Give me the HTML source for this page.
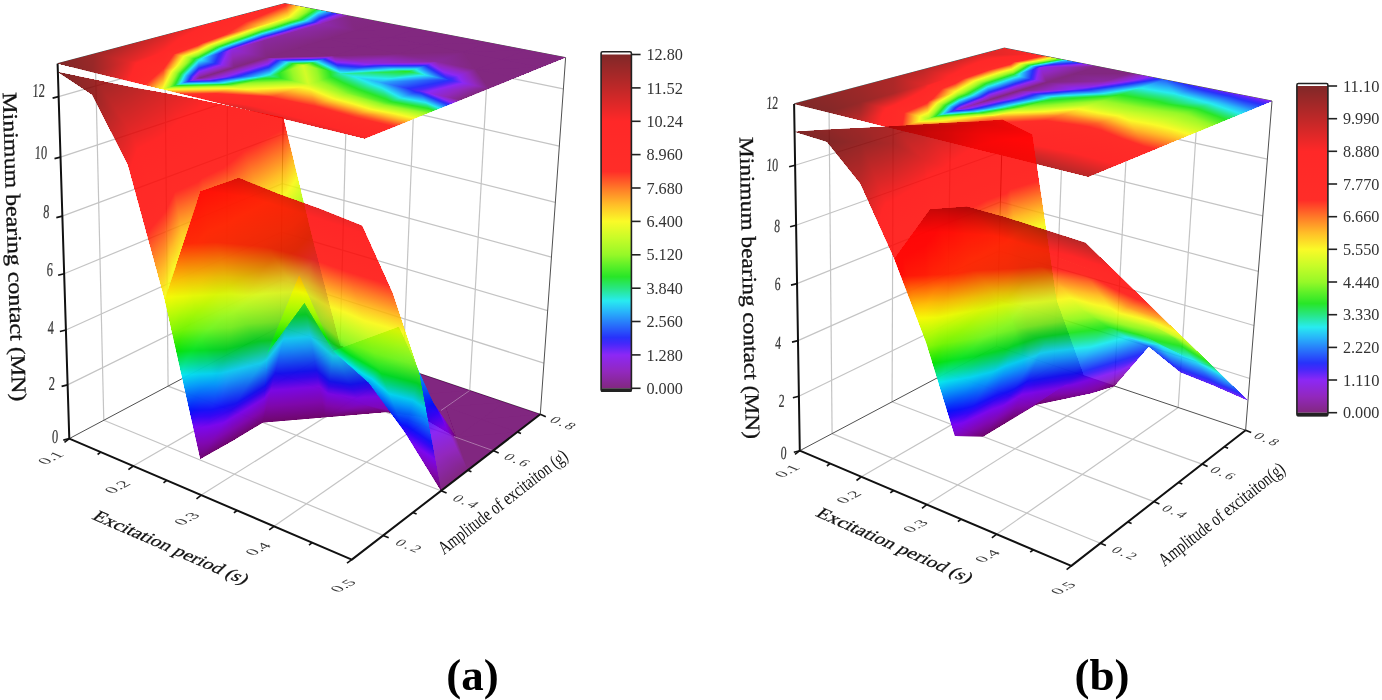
<!DOCTYPE html>
<html><head><meta charset="utf-8"><title>Minimum bearing contact</title>
<style>html,body{margin:0;padding:0;background:#fff}svg{display:block;filter:blur(0.45px)}text{font-family:"Liberation Serif",serif}</style></head>
<body><svg width="1382" height="700" viewBox="0 0 1382 700">
<defs>
<linearGradient id="cmO" gradientUnits="userSpaceOnUse"><stop offset="0" stop-color="#822880"/><stop offset="0.05" stop-color="#9228be"/><stop offset="0.1" stop-color="#8c28f5"/><stop offset="0.133" stop-color="#4628fa"/><stop offset="0.152" stop-color="#2832fa"/><stop offset="0.2" stop-color="#2882fa"/><stop offset="0.229" stop-color="#28b4fa"/><stop offset="0.262" stop-color="#28ebf0"/><stop offset="0.3" stop-color="#28e682"/><stop offset="0.334" stop-color="#28e628"/><stop offset="0.367" stop-color="#5cf028"/><stop offset="0.4" stop-color="#96f828"/><stop offset="0.45" stop-color="#c8fc28"/><stop offset="0.5" stop-color="#fafa28"/><stop offset="0.55" stop-color="#ffbe28"/><stop offset="0.6" stop-color="#ff7828"/><stop offset="0.65" stop-color="#ff2d28"/><stop offset="0.8" stop-color="#ff2828"/><stop offset="0.9" stop-color="#be2828"/><stop offset="1" stop-color="#802828"/></linearGradient>
<linearGradient id="cmT" gradientUnits="userSpaceOnUse"><stop offset="0" stop-color="#6c026a"/><stop offset="0.05" stop-color="#7f02b3"/><stop offset="0.1" stop-color="#7802f3"/><stop offset="0.133" stop-color="#2502f9"/><stop offset="0.152" stop-color="#020ef9"/><stop offset="0.2" stop-color="#026cf9"/><stop offset="0.229" stop-color="#02a7f9"/><stop offset="0.262" stop-color="#02e7ed"/><stop offset="0.3" stop-color="#02e26c"/><stop offset="0.334" stop-color="#02e202"/><stop offset="0.367" stop-color="#3fed02"/><stop offset="0.4" stop-color="#83f702"/><stop offset="0.45" stop-color="#befb02"/><stop offset="0.5" stop-color="#f9f902"/><stop offset="0.55" stop-color="#ffb302"/><stop offset="0.6" stop-color="#ff6002"/><stop offset="0.65" stop-color="#ff0802"/><stop offset="0.8" stop-color="#ff0202"/><stop offset="0.9" stop-color="#b30202"/><stop offset="1" stop-color="#6a0202"/></linearGradient>
<linearGradient id="a1" href="#cmO" x1="834.9" y1="-217.0" x2="57.6" y2="63.6"/>
<linearGradient id="a2" href="#cmO" x1="388.2" y1="73.9" x2="80.6" y2="71.8"/>
<linearGradient id="a3" href="#cmO" x1="284.3" y1="178.5" x2="84.4" y2="68.0"/>
<linearGradient id="a4" href="#cmO" x1="255.3" y1="136.1" x2="96.8" y2="67.6"/>
<linearGradient id="a5" href="#cmO" x1="177.9" y1="138.7" x2="114.6" y2="67.0"/>
<linearGradient id="a6" href="#cmO" x1="187.3" y1="102.0" x2="137.4" y2="76.2"/>
<linearGradient id="a7" href="#cmO" x1="162.5" y1="73.5" x2="163.0" y2="105.6"/>
<linearGradient id="a8" href="#cmO" x1="162.5" y1="78.9" x2="163.0" y2="100.0"/>
<linearGradient id="a9" href="#cmO" x1="207.9" y1="41.2" x2="198.3" y2="113.0"/>
<linearGradient id="a10" href="#cmO" x1="202.1" y1="66.9" x2="199.8" y2="106.5"/>
<linearGradient id="a11" href="#cmO" x1="263.2" y1="20.8" x2="235.1" y2="122.7"/>
<linearGradient id="a12" href="#cmO" x1="253.1" y1="39.2" x2="236.8" y2="119.6"/>
<linearGradient id="a13" href="#cmO" x1="301.9" y1="32.9" x2="275.4" y2="133.5"/>
<linearGradient id="a14" href="#cmO" x1="344.3" y1="44.7" x2="316.9" y2="144.3"/>
<linearGradient id="a15" href="#cmO" x1="344.1" y1="44.9" x2="316.9" y2="144.3"/>
<linearGradient id="a16" href="#cmO" x1="384.7" y1="53.8" x2="360.6" y2="156.7"/>
<linearGradient id="a17" href="#cmO" x1="203.3" y1="233.4" x2="89.9" y2="44.9"/>
<linearGradient id="a18" href="#cmO" x1="225.3" y1="218.3" x2="110.9" y2="32.6"/>
<linearGradient id="a19" href="#cmO" x1="163.1" y1="142.2" x2="122.4" y2="46.6"/>
<linearGradient id="a20" href="#cmO" x1="196.4" y1="93.1" x2="145.0" y2="56.6"/>
<linearGradient id="a21" href="#cmO" x1="185.9" y1="92.0" x2="150.9" y2="57.2"/>
<linearGradient id="a22" href="#cmO" x1="199.4" y1="78.4" x2="180.1" y2="16.5"/>
<linearGradient id="a23" href="#cmO" x1="199.3" y1="78.0" x2="204.5" y2="110.0"/>
<linearGradient id="a24" href="#cmO" x1="199.3" y1="77.9" x2="217.4" y2="138.9"/>
<linearGradient id="a25" href="#cmO" x1="235.4" y1="59.1" x2="237.8" y2="120.3"/>
<linearGradient id="a26" href="#cmO" x1="235.4" y1="60.3" x2="237.7" y2="118.8"/>
<linearGradient id="a27" href="#cmO" x1="287.5" y1="30.2" x2="267.3" y2="135.3"/>
<linearGradient id="a28" href="#cmO" x1="337.5" y1="49.4" x2="301.9" y2="136.5"/>
<linearGradient id="a29" href="#cmO" x1="327.9" y1="55.7" x2="307.3" y2="133.0"/>
<linearGradient id="a30" href="#cmO" x1="370.1" y1="68.3" x2="347.4" y2="142.8"/>
<linearGradient id="a31" href="#cmO" x1="367.3" y1="66.6" x2="349.2" y2="143.8"/>
<linearGradient id="a32" href="#cmO" x1="363.6" y1="74.1" x2="351.3" y2="139.4"/>
<linearGradient id="a33" href="#cmO" x1="227.6" y1="210.7" x2="120.8" y2="27.1"/>
<linearGradient id="a34" href="#cmO" x1="258.5" y1="171.7" x2="140.1" y2="21.2"/>
<linearGradient id="a35" href="#cmO" x1="174.0" y1="79.3" x2="161.6" y2="44.8"/>
<linearGradient id="a36" href="#cmO" x1="203.0" y1="68.2" x2="186.8" y2="37.5"/>
<linearGradient id="a37" href="#cmO" x1="230.3" y1="75.2" x2="117.3" y2="19.7"/>
<linearGradient id="a38" href="#cmO" x1="234.0" y1="67.6" x2="168.5" y2="-147.3"/>
<linearGradient id="a39" href="#cmO" x1="234.0" y1="67.6" x2="252.7" y2="129.2"/>
<linearGradient id="a40" href="#cmO" x1="260.7" y1="61.9" x2="295.0" y2="110.4"/>
<linearGradient id="a41" href="#cmO" x1="215.8" y1="92.0" x2="405.5" y2="36.3"/>
<linearGradient id="a42" href="#cmO" x1="391.4" y1="60.1" x2="211.8" y2="112.9"/>
<linearGradient id="a43" href="#cmO" x1="335.3" y1="29.9" x2="277.4" y2="148.3"/>
<linearGradient id="a44" href="#cmO" x1="369.3" y1="43.7" x2="314.5" y2="170.8"/>
<linearGradient id="a45" href="#cmO" x1="364.8" y1="46.0" x2="321.5" y2="167.1"/>
<linearGradient id="a46" href="#cmO" x1="406.5" y1="68.6" x2="355.3" y2="165.0"/>
<linearGradient id="a47" href="#cmO" x1="393.3" y1="76.5" x2="379.7" y2="150.4"/>
<linearGradient id="a48" href="#cmO" x1="439.4" y1="91.0" x2="416.0" y2="147.1"/>
<linearGradient id="a49" href="#cmO" x1="226.9" y1="156.4" x2="154.8" y2="16.0"/>
<linearGradient id="a50" href="#cmO" x1="261.5" y1="121.8" x2="173.7" y2="12.7"/>
<linearGradient id="a51" href="#cmO" x1="204.9" y1="62.2" x2="195.0" y2="35.1"/>
<linearGradient id="a52" href="#cmO" x1="232.4" y1="52.1" x2="223.0" y2="24.7"/>
<linearGradient id="a53" href="#cmO" x1="263.2" y1="65.1" x2="-140.1" y2="-128.7"/>
<linearGradient id="a54" href="#cmO" x1="266.8" y1="57.6" x2="54.1" y2="-640.8"/>
<linearGradient id="a55" href="#cmO" x1="266.8" y1="57.6" x2="267.3" y2="77.0"/>
<linearGradient id="a56" href="#cmO" x1="312.4" y1="45.6" x2="292.1" y2="88.8"/>
<linearGradient id="a57" href="#cmO" x1="341.9" y1="56.3" x2="336.9" y2="118.0"/>
<linearGradient id="a58" href="#cmO" x1="338.6" y1="105.3" x2="345.2" y2="-7.2"/>
<linearGradient id="a59" href="#cmO" x1="339.7" y1="62.3" x2="342.4" y2="102.8"/>
<linearGradient id="a60" href="#cmO" x1="386.5" y1="118.2" x2="354.4" y2="-40.9"/>
<linearGradient id="a61" href="#cmO" x1="380.8" y1="97.6" x2="373.7" y2="29.3"/>
<linearGradient id="a62" href="#cmO" x1="428.2" y1="113.0" x2="356.6" y2="-64.3"/>
<linearGradient id="a63" href="#cmO" x1="422.8" y1="105.0" x2="394.5" y2="-8.2"/>
<linearGradient id="a64" href="#cmO" x1="231.7" y1="105.7" x2="189.2" y2="9.2"/>
<linearGradient id="a65" href="#cmO" x1="262.7" y1="88.0" x2="210.4" y2="2.2"/>
<linearGradient id="a66" href="#cmO" x1="236.1" y1="51.5" x2="225.8" y2="23.4"/>
<linearGradient id="a67" href="#cmO" x1="263.4" y1="41.5" x2="255.2" y2="12.4"/>
<linearGradient id="a68" href="#cmO" x1="268.2" y1="57.2" x2="55.5" y2="-641.3"/>
<linearGradient id="a69" href="#cmO" x1="265.0" y1="50.4" x2="191.4" y2="-358.1"/>
<linearGradient id="a70" href="#cmO" x1="333.7" y1="55.7" x2="337.0" y2="169.0"/>
<linearGradient id="a71" href="#cmO" x1="370.7" y1="61.0" x2="370.8" y2="92.8"/>
<linearGradient id="a72" href="#cmO" x1="372.0" y1="50.9" x2="355.4" y2="211.2"/>
<linearGradient id="a73" href="#cmO" x1="421.7" y1="50.2" x2="383.3" y2="113.6"/>
<linearGradient id="a74" href="#cmO" x1="452.9" y1="63.1" x2="423.6" y2="170.1"/>
<linearGradient id="a75" href="#cmO" x1="471.7" y1="63.5" x2="321.8" y2="168.0"/>
<linearGradient id="a76" href="#cmO" x1="251.5" y1="77.2" x2="220.5" y2="1.3"/>
<linearGradient id="a77" href="#cmO" x1="277.3" y1="66.6" x2="245.6" y2="-8.9"/>
<linearGradient id="a78" href="#cmO" x1="265.6" y1="42.4" x2="255.2" y2="11.2"/>
<linearGradient id="a79" href="#cmO" x1="293.5" y1="33.1" x2="284.6" y2="1.4"/>
<linearGradient id="a80" href="#cmO" x1="298.1" y1="48.1" x2="142.4" y2="-462.9"/>
<linearGradient id="a81" href="#cmO" x1="295.2" y1="42.4" x2="230.6" y2="-287.0"/>
<linearGradient id="a82" href="#cmO" x1="399.3" y1="53.8" x2="410.1" y2="427.8"/>
<linearGradient id="a83" href="#cmO" x1="459.4" y1="45.8" x2="-497.6" y2="712.8"/>
<linearGradient id="a84" href="#cmO" x1="279.1" y1="65.0" x2="248.4" y2="-9.8"/>
<linearGradient id="a85" href="#cmO" x1="313.3" y1="44.8" x2="264.4" y2="-10.2"/>
<linearGradient id="a86" href="#cmO" x1="302.9" y1="38.6" x2="274.9" y2="-4.0"/>
<linearGradient id="a87" href="#cmO" x1="322.5" y1="25.7" x2="304.7" y2="-23.4"/>
<linearGradient id="a88" href="#cmO" x1="352.4" y1="16.6" x2="-431.2" y2="200.9"/>
<linearGradient id="a89" href="#cmO" x1="355.6" y1="30.5" x2="-831.1" y2="-3865.7"/>
<linearGradient id="a90" href="#cmT" x1="322.0" y1="359.8" x2="134.3" y2="93.5"/>
<linearGradient id="a91" href="#cmT" x1="345.9" y1="372.4" x2="-3093.7" y2="-5338.7"/>
<linearGradient id="a92" href="#cmT" x1="343.0" y1="346.2" x2="-381.4" y2="426.7"/>
<linearGradient id="a93" href="#cmT" x1="394.2" y1="272.4" x2="178.2" y2="114.1"/>
<linearGradient id="a94" href="#cmT" x1="386.6" y1="291.7" x2="185.8" y2="94.7"/>
<linearGradient id="a95" href="#cmT" x1="389.8" y1="356.1" x2="204.7" y2="18.3"/>
<linearGradient id="a96" href="#cmT" x1="297.5" y1="391.5" x2="-11.3" y2="-391.1"/>
<linearGradient id="a97" href="#cmT" x1="292.7" y1="376.0" x2="135.5" y2="89.6"/>
<linearGradient id="a98" href="#cmT" x1="305.6" y1="396.6" x2="-264.7" y2="-550.3"/>
<linearGradient id="a99" href="#cmT" x1="368.3" y1="366.9" x2="167.3" y2="42.4"/>
<linearGradient id="a100" href="#cmT" x1="338.9" y1="353.6" x2="191.7" y2="53.3"/>
<linearGradient id="a101" href="#cmT" x1="267.7" y1="407.2" x2="-70.9" y2="-519.5"/>
<linearGradient id="a102" href="#cmT" x1="369.5" y1="375.7" x2="185.0" y2="25.2"/>
<linearGradient id="a103" href="#cmT" x1="263.5" y1="392.3" x2="104.2" y2="104.2"/>
<linearGradient id="a104" href="#cmT" x1="276.9" y1="414.0" x2="-454.2" y2="-800.0"/>
<linearGradient id="a105" href="#cmT" x1="382.7" y1="353.4" x2="140.0" y2="66.6"/>
<linearGradient id="a106" href="#cmT" x1="324.9" y1="361.4" x2="173.6" y2="61.9"/>
<linearGradient id="a107" href="#cmT" x1="262.8" y1="422.4" x2="-468.3" y2="-791.5"/>
<linearGradient id="a108" href="#cmT" x1="365.4" y1="406.2" x2="159.6" y2="30.7"/>
<linearGradient id="a109" href="#cmT" x1="244.3" y1="404.9" x2="66.1" y2="140.6"/>
<linearGradient id="a110" href="#cmT" x1="385.9" y1="412.1" x2="413.0" y2="735.7"/>
<linearGradient id="a111" href="#cmT" x1="270.1" y1="394.6" x2="-237.6" y2="262.2"/>
<linearGradient id="a112" href="#cmT" x1="446.1" y1="408.1" x2="-626.5" y2="782.6"/>
<linearGradient id="a113" href="#cmT" x1="406.2" y1="350.6" x2="119.7" y2="75.2"/>
<linearGradient id="a114" href="#cmT" x1="305.3" y1="379.2" x2="157.6" y2="64.4"/>
<linearGradient id="a115" href="#cmT" x1="232.4" y1="440.8" x2="-93.9" y2="-101.0"/>
<linearGradient id="a116" href="#cmT" x1="384.9" y1="449.1" x2="130.3" y2="36.5"/>
<linearGradient id="a117" href="#cmT" x1="256.9" y1="390.0" x2="51.9" y2="183.2"/>
<linearGradient id="a118" href="#cmT" x1="257.9" y1="348.1" x2="49.3" y2="290.5"/>
<linearGradient id="a119" href="#cmT" x1="424.7" y1="406.7" x2="98.7" y2="67.5"/>
<linearGradient id="a120" href="#cmT" x1="201.2" y1="460.0" x2="-4.2" y2="126.7"/>
<linearGradient id="a121" href="#cmT" x1="285.4" y1="408.7" x2="134.2" y2="67.0"/>
<linearGradient id="a122" href="#cmT" x1="406.1" y1="495.1" x2="103.1" y2="45.2"/>
<linearGradient id="a123" href="#cmT" x1="301.7" y1="307.9" x2="88.2" y2="166.1"/>
<linearGradient id="a124" href="#cmT" x1="294.9" y1="280.2" x2="92.0" y2="181.7"/>
<linearGradient id="a125" href="#cmT" x1="398.1" y1="501.0" x2="80.3" y2="61.7"/>
<linearGradient id="a126" href="#cmT" x1="391.5" y1="520.7" x2="81.2" y2="58.2"/>
<linearGradient id="a127" href="#cmT" x1="308.1" y1="473.6" x2="96.9" y2="66.8"/>
<linearGradient id="a128" href="#cmT" x1="243.2" y1="324.5" x2="84.0" y2="274.4"/>
<linearGradient id="a129" href="#cmT" x1="396.1" y1="96.6" x2="80.9" y2="94.4"/>
<linearGradient id="a130" href="#cmT" x1="361.7" y1="247.5" x2="74.0" y2="145.2"/>
<linearGradient id="a131" href="#cmT" x1="730.0" y1="-159.3" x2="57.8" y2="72.0"/>
<linearGradient id="a132" href="#cmT" x1="351.7" y1="356.3" x2="76.3" y2="120.1"/>
<linearGradient id="a133" href="#cmT" x1="449.3" y1="264.0" x2="79.0" y2="88.3"/>
<linearGradient id="a134" href="#cmT" x1="324.9" y1="417.2" x2="313.7" y2="283.1"/>
<linearGradient id="a135" href="#cmT" x1="359.2" y1="407.6" x2="367.6" y2="358.0"/>
<linearGradient id="a136" href="#cmT" x1="262.8" y1="422.4" x2="236.9" y2="112.2"/>
<linearGradient id="a137" href="#cmT" x1="323.4" y1="417.0" x2="358.8" y2="182.4"/>
<linearGradient id="a138" href="#cmT" x1="360.9" y1="426.4" x2="347.5" y2="136.3"/>
<linearGradient id="a139" href="#cmT" x1="423.7" y1="421.7" x2="483.0" y2="298.4"/>
<linearGradient id="a140" href="#cmT" x1="240.0" y1="345.5" x2="368.5" y2="193.4"/>
<linearGradient id="a141" href="#cmT" x1="363.9" y1="358.4" x2="467.7" y2="264.9"/>
<linearGradient id="a142" href="#cmT" x1="343.7" y1="427.6" x2="306.8" y2="155.3"/>
<linearGradient id="a143" href="#cmT" x1="298.4" y1="377.8" x2="191.2" y2="292.4"/>
<linearGradient id="a144" href="#cmT" x1="442.9" y1="399.0" x2="379.3" y2="421.2"/>
<linearGradient id="a145" href="#cmT" x1="388.9" y1="482.7" x2="301.5" y2="42.3"/>
<linearGradient id="a146" href="#cmT" x1="321.7" y1="499.9" x2="363.0" y2="-29.5"/>
<linearGradient id="a147" href="#cmT" x1="430.7" y1="487.5" x2="224.9" y2="46.2"/>
<linearGradient id="a148" href="#cmT" x1="415.2" y1="505.8" x2="211.6" y2="-36.5"/>
<linearGradient id="a149" href="#cmT" x1="353.3" y1="293.2" x2="247.2" y2="313.4"/>
<linearGradient id="a150" href="#cmT" x1="446.7" y1="486.4" x2="113.1" y2="53.5"/>
<linearGradient id="a151" href="#cmT" x1="191.8" y1="367.5" x2="453.3" y2="317.8"/>
<linearGradient id="a152" href="#cmT" x1="232.4" y1="440.8" x2="130.6" y2="271.8"/>
<linearGradient id="a153" href="#cmT" x1="200.8" y1="459.4" x2="99.4" y2="287.1"/>
<linearGradient id="a154" href="#cmT" x1="200.7" y1="459.8" x2="127.3" y2="166.8"/>
<linearGradient id="a155" href="#cmT" x1="315.7" y1="378.3" x2="380.6" y2="282.8"/>
<linearGradient id="a156" href="#cmT" x1="271.9" y1="344.8" x2="342.4" y2="253.1"/>
<linearGradient id="a157" href="#cmT" x1="347.3" y1="405.6" x2="437.6" y2="300.4"/>
<linearGradient id="a158" href="#cmT" x1="245.0" y1="435.1" x2="223.8" y2="159.1"/>
<linearGradient id="a159" href="#cmT" x1="170.9" y1="461.1" x2="158.6" y2="133.5"/>
<linearGradient id="a160" href="#cmT" x1="314.5" y1="388.3" x2="382.6" y2="267.3"/>
<linearGradient id="a161" href="#cmT" x1="371.5" y1="444.1" x2="498.3" y2="255.0"/>
<linearGradient id="a162" href="#cmT" x1="357.4" y1="451.3" x2="418.8" y2="216.2"/>
<linearGradient id="a163" href="#cmT" x1="245.4" y1="444.2" x2="223.3" y2="148.1"/>
<linearGradient id="a164" href="#cmT" x1="242.6" y1="382.6" x2="350.1" y2="193.8"/>
<linearGradient id="a165" href="#cmT" x1="173.4" y1="471.8" x2="156.0" y2="122.5"/>
<linearGradient id="a166" href="#cmT" x1="239.1" y1="396.1" x2="293.1" y2="172.0"/>
<linearGradient id="a167" href="#cmT" x1="286.8" y1="426.1" x2="389.7" y2="192.4"/>
<linearGradient id="a168" href="#cmT" x1="174.8" y1="456.1" x2="207.1" y2="123.9"/>
<linearGradient id="a169" href="#cmT" x1="302.3" y1="450.3" x2="380.4" y2="177.9"/>
<linearGradient id="a170" href="#cmT" x1="255.7" y1="418.2" x2="342.7" y2="173.8"/>
<linearGradient id="a171" href="#cmT" x1="175.2" y1="417.1" x2="249.6" y2="137.6"/>
<linearGradient id="a172" href="#cmT" x1="166.2" y1="440.2" x2="209.3" y2="128.0"/>
<linearGradient id="a173" href="#cmT" x1="300.4" y1="445.3" x2="381.5" y2="180.9"/>
<linearGradient id="a174" href="#cmT" x1="169.2" y1="396.7" x2="250.6" y2="141.1"/>
<linearGradient id="a175" href="#cmT" x1="244.9" y1="421.0" x2="334.3" y2="167.1"/>
<linearGradient id="a176" href="#cmT" x1="211.5" y1="412.6" x2="290.9" y2="153.5"/>
<linearGradient id="a177" href="#cmT" x1="295.3" y1="443.7" x2="376.4" y2="179.3"/>
<linearGradient id="a178" href="#cmT" x1="249.1" y1="428.6" x2="333.4" y2="165.6"/>
<linearGradient id="b1" href="#cmO" x1="1112.8" y1="-733.7" x2="794.1" y2="103.9"/>
<linearGradient id="b2" href="#cmO" x1="1269.4" y1="-595.2" x2="824.6" y2="115.1"/>
<linearGradient id="b3" href="#cmO" x1="940.3" y1="326.6" x2="826.0" y2="111.0"/>
<linearGradient id="b4" href="#cmO" x1="970.2" y1="195.1" x2="848.0" y2="112.0"/>
<linearGradient id="b5" href="#cmO" x1="1020.0" y1="177.1" x2="842.6" y2="114.0"/>
<linearGradient id="b6" href="#cmO" x1="969.1" y1="141.9" x2="864.9" y2="123.6"/>
<linearGradient id="b7" href="#cmO" x1="894.1" y1="88.8" x2="895.2" y2="145.1"/>
<linearGradient id="b8" href="#cmO" x1="894.4" y1="105.9" x2="895.1" y2="138.1"/>
<linearGradient id="b9" href="#cmO" x1="944.6" y1="31.2" x2="929.1" y2="151.9"/>
<linearGradient id="b10" href="#cmO" x1="934.9" y1="74.8" x2="930.4" y2="146.1"/>
<linearGradient id="b11" href="#cmO" x1="1001.7" y1="11.6" x2="965.2" y2="158.9"/>
<linearGradient id="b12" href="#cmO" x1="999.5" y1="15.4" x2="965.4" y2="158.6"/>
<linearGradient id="b13" href="#cmO" x1="1049.1" y1="-1.2" x2="1003.0" y2="170.5"/>
<linearGradient id="b14" href="#cmO" x1="1033.1" y1="28.2" x2="1004.4" y2="167.9"/>
<linearGradient id="b15" href="#cmO" x1="1088.8" y1="9.6" x2="1042.8" y2="181.1"/>
<linearGradient id="b16" href="#cmO" x1="1130.5" y1="21.2" x2="1084.1" y2="192.2"/>
<linearGradient id="b17" href="#cmO" x1="1526.2" y1="-765.6" x2="812.1" y2="115.3"/>
<linearGradient id="b18" href="#cmO" x1="1548.7" y1="-397.7" x2="835.4" y2="121.0"/>
<linearGradient id="b19" href="#cmO" x1="891.8" y1="182.7" x2="859.9" y2="99.3"/>
<linearGradient id="b20" href="#cmO" x1="922.2" y1="168.6" x2="884.9" y2="90.6"/>
<linearGradient id="b21" href="#cmO" x1="912.7" y1="153.6" x2="888.1" y2="95.7"/>
<linearGradient id="b22" href="#cmO" x1="943.8" y1="131.9" x2="907.3" y2="99.5"/>
<linearGradient id="b23" href="#cmO" x1="926.3" y1="100.0" x2="932.1" y2="144.6"/>
<linearGradient id="b24" href="#cmO" x1="928.0" y1="109.8" x2="929.6" y2="130.7"/>
<linearGradient id="b25" href="#cmO" x1="962.1" y1="50.8" x2="965.1" y2="159.2"/>
<linearGradient id="b26" href="#cmO" x1="962.9" y1="78.4" x2="964.8" y2="147.5"/>
<linearGradient id="b27" href="#cmO" x1="1046.5" y1="-55.0" x2="989.1" y2="185.6"/>
<linearGradient id="b28" href="#cmO" x1="1020.5" y1="4.5" x2="995.9" y2="170.0"/>
<linearGradient id="b29" href="#cmO" x1="1067.6" y1="-2.2" x2="1031.5" y2="183.2"/>
<linearGradient id="b30" href="#cmO" x1="1098.9" y1="-58.0" x2="1023.4" y2="197.8"/>
<linearGradient id="b31" href="#cmO" x1="1123.9" y1="-9.4" x2="1067.2" y2="194.7"/>
<linearGradient id="b32" href="#cmO" x1="1174.8" y1="23.7" x2="1105.0" y2="200.3"/>
<linearGradient id="b33" href="#cmO" x1="2099.0" y1="46.0" x2="799.9" y2="87.9"/>
<linearGradient id="b34" href="#cmO" x1="1251.8" y1="81.7" x2="866.0" y2="94.2"/>
<linearGradient id="b35" href="#cmO" x1="935.6" y1="168.6" x2="890.5" y2="87.4"/>
<linearGradient id="b36" href="#cmO" x1="964.9" y1="137.4" x2="909.0" y2="84.0"/>
<linearGradient id="b37" href="#cmO" x1="940.1" y1="123.5" x2="920.5" y2="90.4"/>
<linearGradient id="b38" href="#cmO" x1="961.5" y1="110.9" x2="946.9" y2="73.5"/>
<linearGradient id="b39" href="#cmO" x1="960.4" y1="107.1" x2="964.8" y2="133.8"/>
<linearGradient id="b40" href="#cmO" x1="960.1" y1="106.5" x2="968.8" y2="144.1"/>
<linearGradient id="b41" href="#cmO" x1="993.8" y1="74.7" x2="997.2" y2="148.8"/>
<linearGradient id="b42" href="#cmO" x1="994.6" y1="88.7" x2="996.5" y2="138.2"/>
<linearGradient id="b43" href="#cmO" x1="1047.6" y1="29.2" x2="1025.4" y2="165.7"/>
<linearGradient id="b44" href="#cmO" x1="1043.2" y1="42.5" x2="1027.2" y2="160.1"/>
<linearGradient id="b45" href="#cmO" x1="1100.0" y1="20.6" x2="1057.7" y2="177.6"/>
<linearGradient id="b46" href="#cmO" x1="1146.6" y1="48.2" x2="1092.8" y2="181.0"/>
<linearGradient id="b47" href="#cmO" x1="1139.8" y1="51.8" x2="1095.6" y2="179.6"/>
<linearGradient id="b48" href="#cmO" x1="1172.1" y1="52.4" x2="1137.4" y2="199.0"/>
<linearGradient id="b49" href="#cmO" x1="992.0" y1="283.7" x2="885.6" y2="61.6"/>
<linearGradient id="b50" href="#cmO" x1="1044.7" y1="219.8" x2="903.1" y2="60.2"/>
<linearGradient id="b51" href="#cmO" x1="940.5" y1="124.5" x2="922.0" y2="77.5"/>
<linearGradient id="b52" href="#cmO" x1="968.8" y1="112.1" x2="944.7" y2="69.8"/>
<linearGradient id="b53" href="#cmO" x1="968.7" y1="112.0" x2="944.9" y2="70.0"/>
<linearGradient id="b54" href="#cmO" x1="990.9" y1="99.4" x2="976.3" y2="51.9"/>
<linearGradient id="b55" href="#cmO" x1="990.9" y1="99.4" x2="998.2" y2="135.3"/>
<linearGradient id="b56" href="#cmO" x1="990.9" y1="99.4" x2="1007.3" y2="152.7"/>
<linearGradient id="b57" href="#cmO" x1="1023.9" y1="85.1" x2="1027.9" y2="140.5"/>
<linearGradient id="b58" href="#cmO" x1="1023.0" y1="77.9" x2="1029.4" y2="151.6"/>
<linearGradient id="b59" href="#cmO" x1="1069.5" y1="62.3" x2="1055.5" y2="152.4"/>
<linearGradient id="b60" href="#cmO" x1="1073.0" y1="53.3" x2="1053.0" y2="158.8"/>
<linearGradient id="b61" href="#cmO" x1="1125.0" y1="52.7" x2="1081.4" y2="168.0"/>
<linearGradient id="b62" href="#cmO" x1="1151.5" y1="48.2" x2="1125.1" y2="195.5"/>
<linearGradient id="b63" href="#cmO" x1="1158.0" y1="41.7" x2="1120.1" y2="200.5"/>
<linearGradient id="b64" href="#cmO" x1="1200.5" y1="57.4" x2="1157.1" y2="205.0"/>
<linearGradient id="b65" href="#cmO" x1="971.9" y1="193.3" x2="917.9" y2="56.7"/>
<linearGradient id="b66" href="#cmO" x1="1007.2" y1="175.0" x2="939.7" y2="49.3"/>
<linearGradient id="b67" href="#cmO" x1="963.8" y1="104.4" x2="951.7" y2="68.8"/>
<linearGradient id="b68" href="#cmO" x1="990.4" y1="95.3" x2="978.6" y2="59.6"/>
<linearGradient id="b69" href="#cmO" x1="992.2" y1="100.0" x2="974.9" y2="50.1"/>
<linearGradient id="b70" href="#cmO" x1="1019.6" y1="90.6" x2="1004.1" y2="40.1"/>
<linearGradient id="b71" href="#cmO" x1="1019.6" y1="90.6" x2="1022.5" y2="124.0"/>
<linearGradient id="b72" href="#cmO" x1="1019.6" y1="90.6" x2="1061.4" y2="226.6"/>
<linearGradient id="b73" href="#cmO" x1="1052.2" y1="76.3" x2="1057.5" y2="147.0"/>
<linearGradient id="b74" href="#cmO" x1="1053.2" y1="86.1" x2="1055.2" y2="124.7"/>
<linearGradient id="b75" href="#cmO" x1="1100.3" y1="43.8" x2="1075.4" y2="181.0"/>
<linearGradient id="b76" href="#cmO" x1="1099.6" y1="45.4" x2="1076.2" y2="178.9"/>
<linearGradient id="b77" href="#cmO" x1="1138.0" y1="43.1" x2="1110.8" y2="196.2"/>
<linearGradient id="b78" href="#cmO" x1="1134.1" y1="53.9" x2="1115.3" y2="183.5"/>
<linearGradient id="b79" href="#cmO" x1="1189.0" y1="38.2" x2="1133.7" y2="216.1"/>
<linearGradient id="b80" href="#cmO" x1="1229.8" y1="62.4" x2="1167.9" y2="212.6"/>
<linearGradient id="b81" href="#cmO" x1="989.5" y1="161.1" x2="946.4" y2="48.9"/>
<linearGradient id="b82" href="#cmO" x1="1002.8" y1="155.5" x2="975.1" y2="38.0"/>
<linearGradient id="b83" href="#cmO" x1="988.8" y1="92.8" x2="980.1" y2="60.1"/>
<linearGradient id="b84" href="#cmO" x1="1019.4" y1="84.0" x2="1002.2" y2="55.7"/>
<linearGradient id="b85" href="#cmO" x1="1046.5" y1="83.7" x2="940.9" y2="56.3"/>
<linearGradient id="b86" href="#cmO" x1="1046.9" y1="82.2" x2="995.5" y2="-85.2"/>
<linearGradient id="b87" href="#cmO" x1="1046.9" y1="82.2" x2="1051.1" y2="158.1"/>
<linearGradient id="b88" href="#cmO" x1="1046.9" y1="82.2" x2="1223.4" y2="656.9"/>
<linearGradient id="b89" href="#cmO" x1="1079.7" y1="83.1" x2="1087.6" y2="135.4"/>
<linearGradient id="b90" href="#cmO" x1="1079.8" y1="83.4" x2="1087.0" y2="133.3"/>
<linearGradient id="b91" href="#cmO" x1="1124.0" y1="46.8" x2="1099.6" y2="188.3"/>
<linearGradient id="b92" href="#cmO" x1="1123.5" y1="48.1" x2="1100.5" y2="185.9"/>
<linearGradient id="b93" href="#cmO" x1="1157.1" y1="67.7" x2="1141.0" y2="168.6"/>
<linearGradient id="b94" href="#cmO" x1="1168.5" y1="44.9" x2="1120.7" y2="209.0"/>
<linearGradient id="b95" href="#cmO" x1="1206.4" y1="63.9" x2="1158.7" y2="190.5"/>
<linearGradient id="b96" href="#cmO" x1="1241.9" y1="74.4" x2="1196.1" y2="210.3"/>
<linearGradient id="b97" href="#cmO" x1="984.8" y1="125.0" x2="977.5" y2="43.3"/>
<linearGradient id="b98" href="#cmO" x1="1942.1" y1="112.2" x2="816.3" y2="45.4"/>
<linearGradient id="b99" href="#cmO" x1="1011.5" y1="74.5" x2="1008.3" y2="56.8"/>
<linearGradient id="b100" href="#cmO" x1="1012.8" y1="77.8" x2="1007.9" y2="55.7"/>
<linearGradient id="b101" href="#cmO" x1="1045.1" y1="82.7" x2="993.7" y2="-84.7"/>
<linearGradient id="b102" href="#cmO" x1="1040.7" y1="70.8" x2="1038.1" y2="35.3"/>
<linearGradient id="b103" href="#cmO" x1="1072.8" y1="74.2" x2="1078.0" y2="348.1"/>
<linearGradient id="b104" href="#cmO" x1="1105.9" y1="79.6" x2="1114.3" y2="131.6"/>
<linearGradient id="b105" href="#cmO" x1="1105.7" y1="78.9" x2="1123.6" y2="155.7"/>
<linearGradient id="b106" href="#cmO" x1="1146.7" y1="50.0" x2="1122.7" y2="195.2"/>
<linearGradient id="b107" href="#cmO" x1="1186.8" y1="66.7" x2="1146.2" y2="172.0"/>
<linearGradient id="b108" href="#cmO" x1="1182.2" y1="69.9" x2="1158.6" y2="163.4"/>
<linearGradient id="b109" href="#cmO" x1="1217.8" y1="78.0" x2="1196.0" y2="175.6"/>
<linearGradient id="b110" href="#cmO" x1="1220.5" y1="75.7" x2="1187.9" y2="182.2"/>
<linearGradient id="b111" href="#cmO" x1="1256.2" y1="84.3" x2="1227.3" y2="202.9"/>
<linearGradient id="b112" href="#cmT" x1="1035.8" y1="383.7" x2="982.2" y2="63.8"/>
<linearGradient id="b113" href="#cmT" x1="1054.3" y1="393.5" x2="796.0" y2="-34.8"/>
<linearGradient id="b114" href="#cmT" x1="1069.6" y1="371.0" x2="985.1" y2="89.4"/>
<linearGradient id="b115" href="#cmT" x1="1934.3" y1="177.7" x2="816.0" y2="112.2"/>
<linearGradient id="b116" href="#cmT" x1="1071.6" y1="370.5" x2="984.5" y2="89.6"/>
<linearGradient id="b117" href="#cmT" x1="1060.3" y1="389.9" x2="1074.7" y2="591.8"/>
<linearGradient id="b118" href="#cmT" x1="1035.8" y1="404.7" x2="777.5" y2="-23.7"/>
<linearGradient id="b119" href="#cmT" x1="1016.7" y1="451.8" x2="970.6" y2="66.0"/>
<linearGradient id="b120" href="#cmT" x1="1059.0" y1="354.5" x2="891.4" y2="202.0"/>
<linearGradient id="b121" href="#cmT" x1="1035.8" y1="404.7" x2="1398.2" y2="1005.7"/>
<linearGradient id="b122" href="#cmT" x1="1050.6" y1="314.8" x2="910.5" y2="291.8"/>
<linearGradient id="b123" href="#cmT" x1="1074.3" y1="471.2" x2="946.8" y2="67.2"/>
<linearGradient id="b124" href="#cmT" x1="1101.7" y1="447.1" x2="930.2" y2="79.0"/>
<linearGradient id="b125" href="#cmT" x1="1057.8" y1="392.6" x2="952.7" y2="95.0"/>
<linearGradient id="b126" href="#cmT" x1="1010.0" y1="420.2" x2="845.6" y2="147.6"/>
<linearGradient id="b127" href="#cmT" x1="1030.8" y1="401.4" x2="882.4" y2="136.6"/>
<linearGradient id="b128" href="#cmT" x1="1035.3" y1="405.4" x2="873.4" y2="128.5"/>
<linearGradient id="b129" href="#cmT" x1="1132.5" y1="432.9" x2="903.2" y2="96.4"/>
<linearGradient id="b130" href="#cmT" x1="1053.5" y1="397.1" x2="925.0" y2="106.3"/>
<linearGradient id="b131" href="#cmT" x1="1092.3" y1="486.1" x2="904.6" y2="86.3"/>
<linearGradient id="b132" href="#cmT" x1="983.0" y1="436.5" x2="818.0" y2="162.8"/>
<linearGradient id="b133" href="#cmT" x1="1043.6" y1="382.5" x2="856.3" y2="174.8"/>
<linearGradient id="b134" href="#cmT" x1="1043.0" y1="383.0" x2="856.9" y2="174.2"/>
<linearGradient id="b135" href="#cmT" x1="1193.8" y1="411.7" x2="875.3" y2="114.1"/>
<linearGradient id="b136" href="#cmT" x1="1140.0" y1="568.7" x2="873.9" y2="91.9"/>
<linearGradient id="b137" href="#cmT" x1="1049.9" y1="415.2" x2="901.3" y2="113.5"/>
<linearGradient id="b138" href="#cmT" x1="965.3" y1="449.8" x2="789.4" y2="215.9"/>
<linearGradient id="b139" href="#cmT" x1="1237.0" y1="134.1" x2="866.9" y2="144.5"/>
<linearGradient id="b140" href="#cmT" x1="1070.3" y1="331.4" x2="858.5" y2="185.2"/>
<linearGradient id="b141" href="#cmT" x1="1048.5" y1="380.2" x2="868.6" y2="162.8"/>
<linearGradient id="b142" href="#cmT" x1="2079.4" y1="93.6" x2="801.0" y2="129.6"/>
<linearGradient id="b143" href="#cmT" x1="1084.9" y1="430.9" x2="878.7" y2="121.5"/>
<linearGradient id="b144" href="#cmT" x1="997.4" y1="379.6" x2="825.8" y2="289.7"/>
<linearGradient id="b145" href="#cmT" x1="1443.5" y1="-242.1" x2="839.4" y2="156.4"/>
<linearGradient id="b146" href="#cmT" x1="1445.0" y1="-562.6" x2="814.4" y2="146.2"/>
<linearGradient id="b147" href="#cmT" x1="1042.5" y1="460.2" x2="843.7" y2="143.2"/>
<linearGradient id="b148" href="#cmT" x1="1026.7" y1="456.3" x2="849.1" y2="144.5"/>
<linearGradient id="b149" href="#cmT" x1="1017.2" y1="499.3" x2="855.3" y2="128.7"/>
<linearGradient id="b150" href="#cmT" x1="1161.4" y1="-354.1" x2="825.3" y2="144.0"/>
<linearGradient id="b151" href="#cmT" x1="1035.7" y1="-461.8" x2="794.5" y2="131.7"/>
<linearGradient id="b152" href="#cmT" x1="995.3" y1="272.0" x2="853.5" y2="253.3"/>
<linearGradient id="b153" href="#cmT" x1="1109.1" y1="328.3" x2="833.0" y2="167.6"/>
<linearGradient id="b154" href="#cmT" x1="1109.6" y1="622.3" x2="825.6" y2="139.5"/>
<linearGradient id="b155" href="#cmT" x1="1104.0" y1="252.0" x2="833.6" y2="175.9"/>
<linearGradient id="b156" href="#cmT" x1="1093.0" y1="396.0" x2="1043.4" y2="289.5"/>
<linearGradient id="b157" href="#cmT" x1="1093.1" y1="397.9" x2="1040.5" y2="220.2"/>
<linearGradient id="b158" href="#cmT" x1="1035.8" y1="404.7" x2="1015.9" y2="256.2"/>
<linearGradient id="b159" href="#cmT" x1="1148.4" y1="364.5" x2="1193.7" y2="293.1"/>
<linearGradient id="b160" href="#cmT" x1="1074.7" y1="403.4" x2="1022.0" y2="225.9"/>
<linearGradient id="b161" href="#cmT" x1="1010.0" y1="420.2" x2="1001.2" y2="405.6"/>
<linearGradient id="b162" href="#cmT" x1="1124.2" y1="349.4" x2="1135.5" y2="303.4"/>
<linearGradient id="b163" href="#cmT" x1="1184.2" y1="389.8" x2="1225.5" y2="276.8"/>
<linearGradient id="b164" href="#cmT" x1="1148.3" y1="375.9" x2="1194.1" y2="262.2"/>
<linearGradient id="b165" href="#cmT" x1="1074.5" y1="405.1" x2="1023.5" y2="212.7"/>
<linearGradient id="b166" href="#cmT" x1="1010.0" y1="420.2" x2="970.9" y2="190.9"/>
<linearGradient id="b167" href="#cmT" x1="1098.1" y1="349.6" x2="1115.9" y2="279.2"/>
<linearGradient id="b168" href="#cmT" x1="1222.2" y1="399.8" x2="1254.3" y2="320.1"/>
<linearGradient id="b169" href="#cmT" x1="1183.7" y1="383.0" x2="1227.2" y2="296.8"/>
<linearGradient id="b170" href="#cmT" x1="983.0" y1="436.5" x2="900.5" y2="299.7"/>
<linearGradient id="b171" href="#cmT" x1="1052.9" y1="411.2" x2="1027.1" y2="185.1"/>
<linearGradient id="b172" href="#cmT" x1="1135.0" y1="340.4" x2="1144.8" y2="319.0"/>
<linearGradient id="b173" href="#cmT" x1="1098.0" y1="350.3" x2="1116.1" y2="277.8"/>
<linearGradient id="b174" href="#cmT" x1="1053.2" y1="400.9" x2="1026.4" y2="208.5"/>
<linearGradient id="b175" href="#cmT" x1="983.0" y1="436.5" x2="910.4" y2="220.3"/>
<linearGradient id="b176" href="#cmT" x1="1127.2" y1="383.1" x2="1158.8" y2="243.3"/>
<linearGradient id="b177" href="#cmT" x1="1069.4" y1="351.0" x2="1093.5" y2="257.2"/>
<linearGradient id="b178" href="#cmT" x1="1198.8" y1="382.5" x2="1230.2" y2="323.9"/>
<linearGradient id="b179" href="#cmT" x1="960.1" y1="447.1" x2="872.5" y2="259.0"/>
<linearGradient id="b180" href="#cmT" x1="1159.7" y1="362.1" x2="1197.6" y2="298.6"/>
<linearGradient id="b181" href="#cmT" x1="1030.8" y1="402.5" x2="1000.5" y2="217.2"/>
<linearGradient id="b182" href="#cmT" x1="1069.3" y1="352.4" x2="1093.7" y2="255.6"/>
<linearGradient id="b183" href="#cmT" x1="1104.8" y1="366.5" x2="1127.4" y2="258.0"/>
<linearGradient id="b184" href="#cmT" x1="1030.1" y1="421.0" x2="1001.5" y2="189.1"/>
<linearGradient id="b185" href="#cmT" x1="958.6" y1="451.1" x2="896.7" y2="194.9"/>
<linearGradient id="b186" href="#cmT" x1="1106.1" y1="353.7" x2="1126.0" y2="273.1"/>
<linearGradient id="b187" href="#cmT" x1="1031.3" y1="368.9" x2="1071.9" y2="217.2"/>
<linearGradient id="b188" href="#cmT" x1="1174.9" y1="363.1" x2="1203.9" y2="316.5"/>
<linearGradient id="b189" href="#cmT" x1="1145.5" y1="337.2" x2="1157.7" y2="310.6"/>
<linearGradient id="b190" href="#cmT" x1="944.6" y1="454.0" x2="900.4" y2="184.5"/>
<linearGradient id="b191" href="#cmT" x1="1001.9" y1="427.4" x2="983.6" y2="184.0"/>
<linearGradient id="b192" href="#cmT" x1="1033.3" y1="390.7" x2="1070.5" y2="201.8"/>
<linearGradient id="b193" href="#cmT" x1="1112.1" y1="367.2" x2="1138.7" y2="262.2"/>
<linearGradient id="b194" href="#cmT" x1="1054.7" y1="349.9" x2="1114.1" y2="238.8"/>
<linearGradient id="b195" href="#cmT" x1="1001.8" y1="419.0" x2="983.6" y2="190.4"/>
<linearGradient id="b196" href="#cmT" x1="1007.3" y1="371.3" x2="1036.5" y2="206.2"/>
<linearGradient id="b197" href="#cmT" x1="1143.3" y1="372.1" x2="1181.8" y2="280.1"/>
<linearGradient id="b198" href="#cmT" x1="946.1" y1="449.8" x2="898.3" y2="190.5"/>
<linearGradient id="b199" href="#cmT" x1="1111.4" y1="356.1" x2="1139.1" y2="270.6"/>
<linearGradient id="b200" href="#cmT" x1="970.0" y1="425.6" x2="958.4" y2="187.8"/>
<linearGradient id="b201" href="#cmT" x1="1007.0" y1="360.6" x2="1036.7" y2="210.7"/>
<linearGradient id="b202" href="#cmT" x1="902.7" y1="461.8" x2="891.0" y2="176.4"/>
<linearGradient id="b203" href="#cmT" x1="1060.1" y1="351.9" x2="1119.1" y2="242.0"/>
<linearGradient id="b204" href="#cmT" x1="1038.0" y1="337.2" x2="1074.8" y2="229.7"/>
<linearGradient id="b205" href="#cmT" x1="968.9" y1="403.2" x2="958.9" y2="197.3"/>
<linearGradient id="b206" href="#cmT" x1="979.9" y1="337.7" x2="1003.2" y2="212.1"/>
<linearGradient id="b207" href="#cmT" x1="1113.1" y1="382.0" x2="1153.4" y2="255.9"/>
<linearGradient id="b208" href="#cmT" x1="1060.2" y1="365.2" x2="1119.0" y2="236.7"/>
<linearGradient id="b209" href="#cmT" x1="902.4" y1="457.4" x2="891.2" y2="178.2"/>
<linearGradient id="b210" href="#cmT" x1="912.0" y1="436.2" x2="932.5" y2="179.3"/>
<linearGradient id="b211" href="#cmT" x1="990.6" y1="265.2" x2="1000.4" y2="231.0"/>
<linearGradient id="b212" href="#cmT" x1="1034.8" y1="250.9" x2="1035.8" y2="248.2"/>
<linearGradient id="b213" href="#cmT" x1="1015.0" y1="338.4" x2="1040.9" y2="225.4"/>
<linearGradient id="b214" href="#cmT" x1="923.7" y1="358.0" x2="970.8" y2="193.3"/>
<linearGradient id="b215" href="#cmT" x1="904.6" y1="396.1" x2="933.5" y2="184.6"/>
<linearGradient id="b216" href="#cmT" x1="1079.5" y1="340.1" x2="1122.9" y2="252.6"/>
<linearGradient id="b217" href="#cmT" x1="1053.4" y1="318.5" x2="1079.4" y2="241.3"/>
<linearGradient id="b218" href="#cmT" x1="964.3" y1="382.7" x2="1008.7" y2="202.6"/>
<linearGradient id="b219" href="#cmT" x1="923.7" y1="363.8" x2="970.8" y2="192.8"/>
<linearGradient id="b220" href="#cmT" x1="964.8" y1="351.1" x2="1008.7" y2="205.4"/>
<linearGradient id="b221" href="#cmT" x1="1042.6" y1="375.4" x2="1089.7" y2="229.7"/>
<linearGradient id="b222" href="#cmT" x1="1004.4" y1="362.8" x2="1048.3" y2="217.3"/>
<linearGradient id="cb601" href="#cmO" gradientUnits="userSpaceOnUse" x1="0" y1="388.3" x2="0" y2="54.5"/>
<linearGradient id="cb1296" href="#cmO" gradientUnits="userSpaceOnUse" x1="0" y1="412.7" x2="0" y2="86.0"/>
</defs>
<rect width="1382" height="700" fill="#fff"/>
<line x1="133.2" y1="466.0" x2="340.0" y2="346.7" stroke="#c4c4c4" stroke-width="1.20"/>
<line x1="340.0" y1="346.7" x2="349.0" y2="15.9" stroke="#c4c4c4" stroke-width="1.20"/>
<line x1="201.3" y1="495.1" x2="403.1" y2="368.0" stroke="#c4c4c4" stroke-width="1.20"/>
<line x1="403.1" y1="368.0" x2="416.9" y2="29.0" stroke="#c4c4c4" stroke-width="1.20"/>
<line x1="274.0" y1="526.3" x2="469.7" y2="390.5" stroke="#c4c4c4" stroke-width="1.20"/>
<line x1="469.7" y1="390.5" x2="489.0" y2="42.8" stroke="#c4c4c4" stroke-width="1.20"/>
<line x1="383.2" y1="535.4" x2="103.8" y2="420.3" stroke="#c4c4c4" stroke-width="1.20"/>
<line x1="103.8" y1="420.3" x2="95.2" y2="53.7" stroke="#c4c4c4" stroke-width="1.20"/>
<line x1="441.1" y1="490.8" x2="168.1" y2="386.1" stroke="#c4c4c4" stroke-width="1.20"/>
<line x1="168.1" y1="386.1" x2="164.7" y2="35.3" stroke="#c4c4c4" stroke-width="1.20"/>
<line x1="493.1" y1="450.6" x2="226.6" y2="355.0" stroke="#c4c4c4" stroke-width="1.20"/>
<line x1="226.6" y1="355.0" x2="227.6" y2="18.7" stroke="#c4c4c4" stroke-width="1.20"/>
<line x1="67.6" y1="384.9" x2="280.9" y2="279.8" stroke="#c4c4c4" stroke-width="1.20"/>
<line x1="280.9" y1="279.8" x2="543.9" y2="363.1" stroke="#c4c4c4" stroke-width="1.20"/>
<line x1="65.9" y1="330.0" x2="281.6" y2="232.2" stroke="#c4c4c4" stroke-width="1.20"/>
<line x1="281.6" y1="232.2" x2="547.6" y2="310.7" stroke="#c4c4c4" stroke-width="1.20"/>
<line x1="64.1" y1="273.7" x2="282.3" y2="183.6" stroke="#c4c4c4" stroke-width="1.20"/>
<line x1="282.3" y1="183.6" x2="551.4" y2="257.1" stroke="#c4c4c4" stroke-width="1.20"/>
<line x1="62.3" y1="216.1" x2="283.0" y2="134.0" stroke="#c4c4c4" stroke-width="1.20"/>
<line x1="283.0" y1="134.0" x2="555.3" y2="202.3" stroke="#c4c4c4" stroke-width="1.20"/>
<line x1="60.5" y1="157.1" x2="283.7" y2="83.4" stroke="#c4c4c4" stroke-width="1.20"/>
<line x1="283.7" y1="83.4" x2="559.3" y2="146.2" stroke="#c4c4c4" stroke-width="1.20"/>
<line x1="58.6" y1="96.6" x2="284.4" y2="31.7" stroke="#c4c4c4" stroke-width="1.20"/>
<line x1="284.4" y1="31.7" x2="563.3" y2="88.8" stroke="#c4c4c4" stroke-width="1.20"/>
<line x1="69.3" y1="438.6" x2="280.2" y2="326.5" stroke="#505050" stroke-width="1.00"/>
<line x1="280.2" y1="326.5" x2="540.3" y2="414.3" stroke="#505050" stroke-width="1.00"/>
<line x1="280.2" y1="326.5" x2="284.8" y2="3.6" stroke="#505050" stroke-width="1.00"/>
<line x1="540.3" y1="414.3" x2="565.6" y2="57.6" stroke="#505050" stroke-width="1.00"/>
<line x1="57.6" y1="63.6" x2="284.8" y2="3.6" stroke="#505050" stroke-width="1.00"/>
<line x1="284.8" y1="3.6" x2="565.6" y2="57.6" stroke="#505050" stroke-width="1.00"/>
<g><use href="#aC" shape-rendering="crispEdges"/><g id="aC">
<polygon points="57.6,63.6 91.4,71.9 95.2,53.7" fill="url(#a1)"/>
<polygon points="91.4,71.9 128.8,61.6 95.2,53.7" fill="url(#a2)"/>
<polygon points="91.4,71.9 126.5,80.4 128.8,61.6" fill="url(#a3)"/>
<polygon points="126.5,80.4 163.5,69.7 128.8,61.6" fill="url(#a4)"/>
<polygon points="126.5,80.4 162.7,89.3 163.5,69.7" fill="url(#a5)"/>
<polygon points="162.7,89.3 199.3,78.1 163.5,69.7" fill="url(#a6)"/>
<polygon points="162.7,89.3 200.3,98.4 236.5,86.8" fill="url(#a7)"/>
<polygon points="162.7,89.3 236.5,86.8 199.3,78.1" fill="url(#a8)"/>
<polygon points="200.3,98.4 239.2,107.9 274.9,95.9" fill="url(#a9)"/>
<polygon points="200.3,98.4 274.9,95.9 236.5,86.8" fill="url(#a10)"/>
<polygon points="239.2,107.9 279.5,117.8 314.7,105.2" fill="url(#a11)"/>
<polygon points="239.2,107.9 314.7,105.2 274.9,95.9" fill="url(#a12)"/>
<polygon points="279.5,117.8 321.4,128.0 314.7,105.2" fill="url(#a13)"/>
<polygon points="321.4,128.0 355.9,114.9 314.7,105.2" fill="url(#a14)"/>
<polygon points="321.4,128.0 364.8,138.6 355.9,114.9" fill="url(#a15)"/>
<polygon points="364.8,138.6 398.7,124.9 355.9,114.9" fill="url(#a16)"/>
<polygon points="95.2,53.7 128.8,61.6 130.8,44.3" fill="url(#a17)"/>
<polygon points="128.8,61.6 164.1,51.8 130.8,44.3" fill="url(#a18)"/>
<polygon points="128.8,61.6 163.5,69.7 164.1,51.8" fill="url(#a19)"/>
<polygon points="163.5,69.7 198.5,59.6 164.1,51.8" fill="url(#a20)"/>
<polygon points="163.5,69.7 199.3,78.1 198.5,59.6" fill="url(#a21)"/>
<polygon points="199.3,78.1 234.0,67.6 198.5,59.6" fill="url(#a22)"/>
<polygon points="199.3,78.1 236.5,86.8 270.7,75.9" fill="url(#a23)"/>
<polygon points="199.3,78.1 270.7,75.9 234.0,67.6" fill="url(#a24)"/>
<polygon points="236.5,86.8 274.9,95.9 308.6,84.5" fill="url(#a25)"/>
<polygon points="236.5,86.8 308.6,84.5 270.7,75.9" fill="url(#a26)"/>
<polygon points="274.9,95.9 314.7,105.2 308.6,84.5" fill="url(#a27)"/>
<polygon points="314.7,105.2 347.9,93.3 308.6,84.5" fill="url(#a28)"/>
<polygon points="314.7,105.2 355.9,114.9 347.9,93.3" fill="url(#a29)"/>
<polygon points="355.9,114.9 388.5,102.5 347.9,93.3" fill="url(#a30)"/>
<polygon points="355.9,114.9 398.7,124.9 430.6,112.0" fill="url(#a31)"/>
<polygon points="355.9,114.9 430.6,112.0 388.5,102.5" fill="url(#a32)"/>
<polygon points="130.8,44.3 164.1,51.8 164.7,35.3" fill="url(#a33)"/>
<polygon points="164.1,51.8 197.7,42.5 164.7,35.3" fill="url(#a34)"/>
<polygon points="164.1,51.8 198.5,59.6 197.7,42.5" fill="url(#a35)"/>
<polygon points="198.5,59.6 231.7,49.9 197.7,42.5" fill="url(#a36)"/>
<polygon points="198.5,59.6 234.0,67.6 231.7,49.9" fill="url(#a37)"/>
<polygon points="234.0,67.6 266.8,57.6 231.7,49.9" fill="url(#a38)"/>
<polygon points="234.0,67.6 270.7,75.9 266.8,57.6" fill="url(#a39)"/>
<polygon points="270.7,75.9 303.0,65.5 266.8,57.6" fill="url(#a40)"/>
<polygon points="270.7,75.9 308.6,84.5 303.0,65.5" fill="url(#a41)"/>
<polygon points="308.6,84.5 340.5,73.7 303.0,65.5" fill="url(#a42)"/>
<polygon points="308.6,84.5 347.9,93.3 340.5,73.7" fill="url(#a43)"/>
<polygon points="347.9,93.3 379.2,82.1 340.5,73.7" fill="url(#a44)"/>
<polygon points="347.9,93.3 388.5,102.5 379.2,82.1" fill="url(#a45)"/>
<polygon points="388.5,102.5 419.2,90.9 379.2,82.1" fill="url(#a46)"/>
<polygon points="388.5,102.5 430.6,112.0 419.2,90.9" fill="url(#a47)"/>
<polygon points="430.6,112.0 460.7,99.9 419.2,90.9" fill="url(#a48)"/>
<polygon points="164.7,35.3 197.7,42.5 197.0,26.8" fill="url(#a49)"/>
<polygon points="197.7,42.5 229.6,33.7 197.0,26.8" fill="url(#a50)"/>
<polygon points="197.7,42.5 231.7,49.9 229.6,33.7" fill="url(#a51)"/>
<polygon points="231.7,49.9 263.2,40.8 229.6,33.7" fill="url(#a52)"/>
<polygon points="231.7,49.9 266.8,57.6 263.2,40.8" fill="url(#a53)"/>
<polygon points="266.8,57.6 297.9,48.1 263.2,40.8" fill="url(#a54)"/>
<polygon points="266.8,57.6 303.0,65.5 333.7,55.7" fill="url(#a55)"/>
<polygon points="266.8,57.6 333.7,55.7 297.9,48.1" fill="#822880"/>
<polygon points="303.0,65.5 340.5,73.7 333.7,55.7" fill="url(#a56)"/>
<polygon points="340.5,73.7 370.7,63.5 333.7,55.7" fill="url(#a57)"/>
<polygon points="340.5,73.7 379.2,82.1 408.8,71.5" fill="url(#a58)"/>
<polygon points="340.5,73.7 408.8,71.5 370.7,63.5" fill="url(#a59)"/>
<polygon points="379.2,82.1 419.2,90.9 448.3,79.8" fill="url(#a60)"/>
<polygon points="379.2,82.1 448.3,79.8 408.8,71.5" fill="url(#a61)"/>
<polygon points="419.2,90.9 460.7,99.9 489.1,88.4" fill="url(#a62)"/>
<polygon points="419.2,90.9 489.1,88.4 448.3,79.8" fill="url(#a63)"/>
<polygon points="197.0,26.8 229.6,33.7 227.6,18.7" fill="url(#a64)"/>
<polygon points="229.6,33.7 259.9,25.3 227.6,18.7" fill="url(#a65)"/>
<polygon points="229.6,33.7 263.2,40.8 259.9,25.3" fill="url(#a66)"/>
<polygon points="263.2,40.8 293.2,32.1 259.9,25.3" fill="url(#a67)"/>
<polygon points="263.2,40.8 297.9,48.1 327.5,39.1" fill="url(#a68)"/>
<polygon points="263.2,40.8 327.5,39.1 293.2,32.1" fill="url(#a69)"/>
<polygon points="297.9,48.1 333.7,55.7 362.9,46.3" fill="#822880"/>
<polygon points="297.9,48.1 362.9,46.3 327.5,39.1" fill="#822880"/>
<polygon points="333.7,55.7 370.7,63.5 399.3,53.8" fill="url(#a70)"/>
<polygon points="333.7,55.7 399.3,53.8 362.9,46.3" fill="#822880"/>
<polygon points="370.7,63.5 408.8,71.5 437.0,61.5" fill="url(#a71)"/>
<polygon points="370.7,63.5 437.0,61.5 399.3,53.8" fill="url(#a72)"/>
<polygon points="408.8,71.5 448.3,79.8 437.0,61.5" fill="url(#a73)"/>
<polygon points="448.3,79.8 475.8,69.4 437.0,61.5" fill="url(#a74)"/>
<polygon points="448.3,79.8 489.1,88.4 475.8,69.4" fill="url(#a75)"/>
<polygon points="489.1,88.4 516.0,77.6 475.8,69.4" fill="#822880"/>
<polygon points="227.6,18.7 259.9,25.3 256.9,11.0" fill="url(#a76)"/>
<polygon points="259.9,25.3 288.9,17.3 256.9,11.0" fill="url(#a77)"/>
<polygon points="259.9,25.3 293.2,32.1 288.9,17.3" fill="url(#a78)"/>
<polygon points="293.2,32.1 321.8,23.8 288.9,17.3" fill="url(#a79)"/>
<polygon points="293.2,32.1 327.5,39.1 355.6,30.5" fill="url(#a80)"/>
<polygon points="293.2,32.1 355.6,30.5 321.8,23.8" fill="url(#a81)"/>
<polygon points="327.5,39.1 362.9,46.3 390.6,37.4" fill="#822880"/>
<polygon points="327.5,39.1 390.6,37.4 355.6,30.5" fill="#822880"/>
<polygon points="362.9,46.3 399.3,53.8 426.5,44.6" fill="#822880"/>
<polygon points="362.9,46.3 426.5,44.6 390.6,37.4" fill="#822880"/>
<polygon points="399.3,53.8 437.0,61.5 463.6,51.9" fill="url(#a82)"/>
<polygon points="399.3,53.8 463.6,51.9 426.5,44.6" fill="#822880"/>
<polygon points="437.0,61.5 475.8,69.4 463.6,51.9" fill="url(#a83)"/>
<polygon points="475.8,69.4 501.9,59.5 463.6,51.9" fill="#822880"/>
<polygon points="475.8,69.4 516.0,77.6 541.4,67.3" fill="#822880"/>
<polygon points="475.8,69.4 541.4,67.3 501.9,59.5" fill="#822880"/>
<polygon points="256.9,11.0 288.9,17.3 284.8,3.6" fill="url(#a84)"/>
<polygon points="288.9,17.3 316.5,9.7 284.8,3.6" fill="url(#a85)"/>
<polygon points="288.9,17.3 321.8,23.8 316.5,9.7" fill="url(#a86)"/>
<polygon points="321.8,23.8 349.0,15.9 316.5,9.7" fill="url(#a87)"/>
<polygon points="321.8,23.8 355.6,30.5 349.0,15.9" fill="url(#a88)"/>
<polygon points="355.6,30.5 382.5,22.4 349.0,15.9" fill="url(#a89)"/>
<polygon points="355.6,30.5 390.6,37.4 416.9,29.0" fill="#822880"/>
<polygon points="355.6,30.5 416.9,29.0 382.5,22.4" fill="#822880"/>
<polygon points="390.6,37.4 426.5,44.6 452.4,35.8" fill="#822880"/>
<polygon points="390.6,37.4 452.4,35.8 416.9,29.0" fill="#822880"/>
<polygon points="426.5,44.6 463.6,51.9 489.0,42.8" fill="#822880"/>
<polygon points="426.5,44.6 489.0,42.8 452.4,35.8" fill="#822880"/>
<polygon points="463.6,51.9 501.9,59.5 526.7,50.1" fill="#822880"/>
<polygon points="463.6,51.9 526.7,50.1 489.0,42.8" fill="#822880"/>
<polygon points="501.9,59.5 541.4,67.3 565.6,57.6" fill="#822880"/>
<polygon points="501.9,59.5 565.6,57.6 526.7,50.1" fill="#822880"/>
</g></g>
<g opacity="0.85"><use href="#aL0" shape-rendering="crispEdges"/><g id="aL0">
<polygon points="314.7,349.4 340.0,345.5 311.8,236.2" fill="url(#a90)"/>
<polygon points="345.9,372.4 371.1,357.2 340.0,345.5" fill="url(#a91)"/>
<polygon points="314.7,349.4 345.9,372.4 340.0,345.5" fill="url(#a92)"/>
<polygon points="286.2,193.2 311.8,236.2 283.2,117.6" fill="url(#a93)"/>
<polygon points="286.2,193.2 314.7,349.4 311.8,236.2" fill="url(#a94)"/>
<polygon points="345.9,372.4 403.1,368.0 371.1,357.2" fill="#6c026a"/>
<polygon points="256.0,112.0 286.2,193.2 283.2,117.6" fill="url(#a95)"/>
<polygon points="287.8,367.0 345.9,372.4 314.7,349.4" fill="url(#a96)"/>
<polygon points="345.9,372.4 378.2,383.7 403.1,368.0" fill="#6c026a"/>
<polygon points="287.8,367.0 314.7,349.4 286.2,193.2" fill="url(#a97)"/>
<polygon points="378.2,383.7 436.0,379.1 403.1,368.0" fill="#6c026a"/>
<polygon points="287.8,367.0 319.5,388.3 345.9,372.4" fill="url(#a98)"/>
<polygon points="319.5,388.3 378.2,383.7 345.9,372.4" fill="#6c026a"/>
<polygon points="258.4,189.4 286.2,193.2 256.0,112.0" fill="url(#a99)"/>
<polygon points="378.2,383.7 411.5,395.2 436.0,379.1" fill="#6c026a"/>
<polygon points="258.4,189.4 287.8,367.0 286.2,193.2" fill="url(#a100)"/>
<polygon points="411.5,395.2 469.7,390.5 436.0,379.1" fill="#6c026a"/>
<polygon points="259.7,385.5 319.5,388.3 287.8,367.0" fill="url(#a101)"/>
<polygon points="227.4,105.7 258.4,189.4 256.0,112.0" fill="url(#a102)"/>
<polygon points="319.5,388.3 352.2,400.1 378.2,383.7" fill="#6c026a"/>
<polygon points="259.7,385.5 287.8,367.0 258.4,189.4" fill="url(#a103)"/>
<polygon points="352.2,400.1 411.5,395.2 378.2,383.7" fill="#6c026a"/>
<polygon points="411.5,395.2 445.7,407.1 469.7,390.5" fill="#6c026a"/>
<polygon points="259.7,385.5 291.8,405.0 319.5,388.3" fill="url(#a104)"/>
<polygon points="291.8,405.0 352.2,400.1 319.5,388.3" fill="#6c026a"/>
<polygon points="352.2,400.1 385.9,412.1 411.5,395.2" fill="#6c026a"/>
<polygon points="385.9,412.1 445.7,407.1 411.5,395.2" fill="#6c026a"/>
<polygon points="229.1,171.9 258.4,189.4 227.4,105.7" fill="url(#a105)"/>
<polygon points="229.1,171.9 259.7,385.5 258.4,189.4" fill="url(#a106)"/>
<polygon points="291.8,405.0 324.9,417.2 352.2,400.1" fill="#6c026a"/>
<polygon points="324.9,417.2 385.9,412.1 352.2,400.1" fill="#6c026a"/>
<polygon points="262.8,422.4 291.8,405.0 259.7,385.5" fill="url(#a107)"/>
<polygon points="197.2,99.4 229.1,171.9 227.4,105.7" fill="url(#a108)"/>
<polygon points="230.4,384.3 259.7,385.5 229.1,171.9" fill="url(#a109)"/>
<polygon points="385.9,412.1 420.9,416.8 445.7,407.1" fill="url(#a110)"/>
<polygon points="230.4,384.3 262.8,422.4 259.7,385.5" fill="url(#a111)"/>
<polygon points="262.8,422.4 324.9,417.2 291.8,405.0" fill="#6c026a"/>
<polygon points="420.9,416.8 456.3,437.4 445.7,407.1" fill="url(#a112)"/>
<polygon points="198.0,150.5 229.1,171.9 197.2,99.4" fill="url(#a113)"/>
<polygon points="198.0,150.5 230.4,384.3 229.1,171.9" fill="url(#a114)"/>
<polygon points="232.4,440.8 262.8,422.4 230.4,384.3" fill="url(#a115)"/>
<polygon points="165.3,93.2 198.0,150.5 197.2,99.4" fill="url(#a116)"/>
<polygon points="199.3,331.9 230.4,384.3 198.0,150.5" fill="url(#a117)"/>
<polygon points="199.3,331.9 232.4,440.8 230.4,384.3" fill="url(#a118)"/>
<polygon points="164.9,136.4 198.0,150.5 165.3,93.2" fill="url(#a119)"/>
<polygon points="200.4,458.7 232.4,440.8 199.3,331.9" fill="url(#a120)"/>
<polygon points="164.9,136.4 199.3,331.9 198.0,150.5" fill="url(#a121)"/>
<polygon points="131.5,87.3 164.9,136.4 165.3,93.2" fill="url(#a122)"/>
<polygon points="164.9,217.1 200.4,458.7 199.3,331.9" fill="url(#a123)"/>
<polygon points="164.9,217.1 199.3,331.9 164.9,136.4" fill="url(#a124)"/>
<polygon points="129.9,130.3 164.9,136.4 131.5,87.3" fill="url(#a125)"/>
<polygon points="95.8,79.9 129.9,130.3 131.5,87.3" fill="url(#a126)"/>
<polygon points="129.9,130.3 164.9,217.1 164.9,136.4" fill="url(#a127)"/>
<polygon points="164.9,299.9 200.4,458.7 164.9,217.1" fill="url(#a128)"/>
<polygon points="92.0,94.5 129.9,130.3 95.8,79.9" fill="url(#a129)"/>
<polygon points="127.9,164.4 164.9,217.1 129.9,130.3" fill="url(#a130)"/>
<polygon points="57.8,72.0 92.0,94.5 95.8,79.9" fill="url(#a131)"/>
<polygon points="127.9,164.4 164.9,299.9 164.9,217.1" fill="url(#a132)"/>
<polygon points="92.0,94.5 127.9,164.4 129.9,130.3" fill="url(#a133)"/>
</g></g>
<g opacity="0.85"><use href="#aL1" shape-rendering="crispEdges"/><g id="aL1">
<polygon points="324.9,417.2 359.9,403.8 385.9,412.1" fill="url(#a134)"/>
<polygon points="359.9,403.8 420.9,416.8 385.9,412.1" fill="url(#a135)"/>
<polygon points="262.8,422.4 299.2,275.4 324.9,417.2" fill="url(#a136)"/>
<polygon points="333.3,351.0 359.9,403.8 324.9,417.2" fill="url(#a137)"/>
<polygon points="359.9,403.8 398.8,327.0 420.9,416.8" fill="url(#a138)"/>
<polygon points="433.0,402.5 456.3,437.4 420.9,416.8" fill="url(#a139)"/>
<polygon points="299.2,275.4 333.3,351.0 324.9,417.2" fill="url(#a140)"/>
<polygon points="398.8,327.0 433.0,402.5 420.9,416.8" fill="url(#a141)"/>
<polygon points="333.3,351.0 398.8,327.0 359.9,403.8" fill="url(#a142)"/>
<polygon points="267.4,353.1 299.2,275.4 262.8,422.4" fill="url(#a143)"/>
</g></g>
<g opacity="0.85"><use href="#aL2" shape-rendering="crispEdges"/><g id="aL2">
<polygon points="445.7,407.1 504.5,402.2 469.7,390.5" fill="#6c026a"/>
<polygon points="445.7,407.1 481.0,419.4 504.5,402.2" fill="#6c026a"/>
<polygon points="481.0,419.4 540.3,414.3 504.5,402.2" fill="#6c026a"/>
<polygon points="481.0,419.4 517.3,432.0 540.3,414.3" fill="#6c026a"/>
<polygon points="456.3,437.4 481.0,419.4 445.7,407.1" fill="#6c026a"/>
<polygon points="456.3,437.4 517.3,432.0 481.0,419.4" fill="#6c026a"/>
<polygon points="456.3,437.4 493.1,450.6 517.3,432.0" fill="#6c026a"/>
<polygon points="467.8,470.2 493.1,450.6 456.3,437.4" fill="#6c026a"/>
<polygon points="433.0,402.5 467.8,470.2 456.3,437.4" fill="url(#a144)"/>
<polygon points="369.1,383.0 433.0,402.5 398.8,327.0" fill="url(#a145)"/>
<polygon points="333.3,351.0 369.1,383.0 398.8,327.0" fill="url(#a146)"/>
<polygon points="405.0,432.3 467.8,470.2 433.0,402.5" fill="url(#a147)"/>
<polygon points="369.1,383.0 405.0,432.3 433.0,402.5" fill="url(#a148)"/>
<polygon points="304.4,302.5 333.3,351.0 299.2,275.4" fill="url(#a149)"/>
<polygon points="405.0,432.3 441.1,490.8 467.8,470.2" fill="url(#a150)"/>
<polygon points="267.4,353.1 304.4,302.5 299.2,275.4" fill="url(#a151)"/>
</g></g>
<g opacity="0.85"><use href="#aL3" shape-rendering="crispEdges"/><g id="aL3">
<polygon points="232.4,440.8 267.4,353.1 262.8,422.4" fill="url(#a152)"/>
<polygon points="200.4,458.7 267.4,353.1 232.4,440.8" fill="url(#a153)"/>
<polygon points="200.4,458.7 235.4,310.0 267.4,353.1" fill="url(#a154)"/>
<polygon points="341.1,341.0 369.1,383.0 333.3,351.0" fill="url(#a155)"/>
<polygon points="304.4,302.5 341.1,341.0 333.3,351.0" fill="url(#a156)"/>
<polygon points="379.0,368.6 405.0,432.3 369.1,383.0" fill="url(#a157)"/>
<polygon points="235.4,310.0 304.4,302.5 267.4,353.1" fill="url(#a158)"/>
<polygon points="164.9,299.9 235.4,310.0 200.4,458.7" fill="url(#a159)"/>
<polygon points="341.1,341.0 379.0,368.6 369.1,383.0" fill="url(#a160)"/>
<polygon points="419.1,373.2 441.1,490.8 405.0,432.3" fill="url(#a161)"/>
<polygon points="379.0,368.6 419.1,373.2 405.0,432.3" fill="url(#a162)"/>
<polygon points="235.4,310.0 272.9,256.0 304.4,302.5" fill="url(#a163)"/>
<polygon points="311.5,261.6 341.1,341.0 304.4,302.5" fill="url(#a164)"/>
<polygon points="164.9,299.9 200.5,191.4 235.4,310.0" fill="url(#a165)"/>
<polygon points="272.9,256.0 311.5,261.6 304.4,302.5" fill="url(#a166)"/>
<polygon points="351.1,280.1 379.0,368.6 341.1,341.0" fill="url(#a167)"/>
<polygon points="200.5,191.4 272.9,256.0 235.4,310.0" fill="url(#a168)"/>
<polygon points="351.1,280.1 419.1,373.2 379.0,368.6" fill="url(#a169)"/>
<polygon points="311.5,261.6 351.1,280.1 341.1,341.0" fill="url(#a170)"/>
<polygon points="238.8,178.0 311.5,261.6 272.9,256.0" fill="url(#a171)"/>
<polygon points="200.5,191.4 238.8,178.0 272.9,256.0" fill="url(#a172)"/>
<polygon points="351.1,280.1 392.4,292.7 419.1,373.2" fill="url(#a173)"/>
<polygon points="238.8,178.0 278.5,194.0 311.5,261.6" fill="url(#a174)"/>
<polygon points="319.6,208.8 351.1,280.1 311.5,261.6" fill="url(#a175)"/>
<polygon points="278.5,194.0 319.6,208.8 311.5,261.6" fill="url(#a176)"/>
<polygon points="362.1,225.8 392.4,292.7 351.1,280.1" fill="url(#a177)"/>
<polygon points="319.6,208.8 362.1,225.8 351.1,280.1" fill="url(#a178)"/>
</g></g>
<line x1="440.8" y1="410.6" x2="469.7" y2="390.5" stroke="#c9a3c9" stroke-width="0.90" opacity="0.75"/>
<line x1="454.1" y1="436.6" x2="493.1" y2="450.6" stroke="#c9a3c9" stroke-width="0.90" opacity="0.75"/>
<polyline points="57.6,63.6 69.3,438.6 351.8,559.6 540.3,414.3" fill="none" stroke="#111" stroke-width="2" stroke-linejoin="round"/>
<line x1="69.3" y1="438.6" x2="64.5" y2="442.3" stroke="#111" stroke-width="1.60"/>
<line x1="100.7" y1="452.1" x2="97.6" y2="454.5" stroke="#111" stroke-width="1.60"/>
<line x1="133.2" y1="466.0" x2="128.4" y2="469.7" stroke="#111" stroke-width="1.60"/>
<line x1="166.7" y1="480.3" x2="163.5" y2="482.8" stroke="#111" stroke-width="1.60"/>
<line x1="201.3" y1="495.1" x2="196.5" y2="498.8" stroke="#111" stroke-width="1.60"/>
<line x1="237.0" y1="510.5" x2="233.9" y2="512.9" stroke="#111" stroke-width="1.60"/>
<line x1="274.0" y1="526.3" x2="269.2" y2="529.9" stroke="#111" stroke-width="1.60"/>
<line x1="312.2" y1="542.6" x2="309.0" y2="545.1" stroke="#111" stroke-width="1.60"/>
<line x1="351.8" y1="559.6" x2="347.0" y2="563.2" stroke="#111" stroke-width="1.60"/>
<line x1="383.2" y1="535.4" x2="388.7" y2="537.7" stroke="#111" stroke-width="1.60"/>
<line x1="412.9" y1="512.5" x2="416.6" y2="514.0" stroke="#111" stroke-width="1.60"/>
<line x1="441.1" y1="490.8" x2="446.6" y2="493.1" stroke="#111" stroke-width="1.60"/>
<line x1="467.8" y1="470.2" x2="471.4" y2="471.8" stroke="#111" stroke-width="1.60"/>
<line x1="493.1" y1="450.6" x2="498.7" y2="453.0" stroke="#111" stroke-width="1.60"/>
<line x1="517.3" y1="432.0" x2="521.0" y2="433.6" stroke="#111" stroke-width="1.60"/>
<line x1="540.3" y1="414.3" x2="545.8" y2="416.7" stroke="#111" stroke-width="1.60"/>
<line x1="69.3" y1="438.6" x2="63.3" y2="440.1" stroke="#111" stroke-width="1.60"/>
<line x1="67.6" y1="384.9" x2="61.6" y2="386.4" stroke="#111" stroke-width="1.60"/>
<line x1="65.9" y1="330.0" x2="59.9" y2="331.5" stroke="#111" stroke-width="1.60"/>
<line x1="64.1" y1="273.7" x2="58.1" y2="275.2" stroke="#111" stroke-width="1.60"/>
<line x1="62.3" y1="216.1" x2="56.3" y2="217.6" stroke="#111" stroke-width="1.60"/>
<line x1="60.5" y1="157.1" x2="54.5" y2="158.6" stroke="#111" stroke-width="1.60"/>
<line x1="58.6" y1="96.6" x2="52.6" y2="98.1" stroke="#111" stroke-width="1.60"/>
<line x1="861.3" y1="476.8" x2="1054.0" y2="365.7" stroke="#c4c4c4" stroke-width="1.20"/>
<line x1="1054.0" y1="365.7" x2="1065.6" y2="60.3" stroke="#c4c4c4" stroke-width="1.20"/>
<line x1="926.7" y1="504.6" x2="1114.4" y2="386.0" stroke="#c4c4c4" stroke-width="1.20"/>
<line x1="1114.4" y1="386.0" x2="1130.4" y2="73.1" stroke="#c4c4c4" stroke-width="1.20"/>
<line x1="996.6" y1="534.2" x2="1178.2" y2="407.5" stroke="#c4c4c4" stroke-width="1.20"/>
<line x1="1178.2" y1="407.5" x2="1199.1" y2="86.7" stroke="#c4c4c4" stroke-width="1.20"/>
<line x1="1100.4" y1="543.3" x2="832.1" y2="433.6" stroke="#c4c4c4" stroke-width="1.20"/>
<line x1="832.1" y1="433.6" x2="828.9" y2="94.7" stroke="#c4c4c4" stroke-width="1.20"/>
<line x1="1153.9" y1="501.6" x2="892.1" y2="401.8" stroke="#c4c4c4" stroke-width="1.20"/>
<line x1="892.1" y1="401.8" x2="893.3" y2="77.6" stroke="#c4c4c4" stroke-width="1.20"/>
<line x1="1202.1" y1="464.1" x2="946.8" y2="372.9" stroke="#c4c4c4" stroke-width="1.20"/>
<line x1="946.8" y1="372.9" x2="951.5" y2="62.2" stroke="#c4c4c4" stroke-width="1.20"/>
<line x1="798.9" y1="396.3" x2="998.0" y2="299.2" stroke="#c4c4c4" stroke-width="1.20"/>
<line x1="998.0" y1="299.2" x2="1249.8" y2="378.5" stroke="#c4c4c4" stroke-width="1.20"/>
<line x1="798.0" y1="340.6" x2="999.2" y2="251.0" stroke="#c4c4c4" stroke-width="1.20"/>
<line x1="999.2" y1="251.0" x2="1254.0" y2="325.5" stroke="#c4c4c4" stroke-width="1.20"/>
<line x1="797.0" y1="283.6" x2="1000.5" y2="201.9" stroke="#c4c4c4" stroke-width="1.20"/>
<line x1="1000.5" y1="201.9" x2="1258.4" y2="271.3" stroke="#c4c4c4" stroke-width="1.20"/>
<line x1="796.1" y1="225.2" x2="1001.8" y2="151.7" stroke="#c4c4c4" stroke-width="1.20"/>
<line x1="1001.8" y1="151.7" x2="1262.8" y2="215.9" stroke="#c4c4c4" stroke-width="1.20"/>
<line x1="795.1" y1="165.3" x2="1003.1" y2="100.5" stroke="#c4c4c4" stroke-width="1.20"/>
<line x1="1003.1" y1="100.5" x2="1267.4" y2="159.2" stroke="#c4c4c4" stroke-width="1.20"/>
<line x1="794.1" y1="103.9" x2="1004.4" y2="48.2" stroke="#c4c4c4" stroke-width="1.20"/>
<line x1="1004.4" y1="48.2" x2="1272.0" y2="101.1" stroke="#c4c4c4" stroke-width="1.20"/>
<line x1="799.8" y1="450.7" x2="996.7" y2="346.4" stroke="#505050" stroke-width="1.00"/>
<line x1="996.7" y1="346.4" x2="1245.6" y2="430.2" stroke="#505050" stroke-width="1.00"/>
<line x1="996.7" y1="346.4" x2="1004.4" y2="48.2" stroke="#505050" stroke-width="1.00"/>
<line x1="1245.6" y1="430.2" x2="1272.0" y2="101.1" stroke="#505050" stroke-width="1.00"/>
<line x1="794.1" y1="103.9" x2="1004.4" y2="48.2" stroke="#505050" stroke-width="1.00"/>
<line x1="1004.4" y1="48.2" x2="1272.0" y2="101.1" stroke="#505050" stroke-width="1.00"/>
<g><use href="#bC" shape-rendering="crispEdges"/><g id="bC">
<polygon points="794.1,103.9 826.6,111.9 828.9,94.7" fill="url(#b1)"/>
<polygon points="826.6,111.9 861.1,102.3 828.9,94.7" fill="url(#b2)"/>
<polygon points="826.6,111.9 860.2,120.2 861.1,102.3" fill="url(#b3)"/>
<polygon points="860.2,120.2 894.3,110.3 861.1,102.3" fill="url(#b4)"/>
<polygon points="860.2,120.2 894.9,128.9 894.3,110.3" fill="url(#b5)"/>
<polygon points="894.9,128.9 928.7,118.5 894.3,110.3" fill="url(#b6)"/>
<polygon points="894.9,128.9 930.9,137.8 964.2,127.0" fill="url(#b7)"/>
<polygon points="894.9,128.9 964.2,127.0 928.7,118.5" fill="url(#b8)"/>
<polygon points="930.9,137.8 968.1,147.0 1001.0,135.7" fill="url(#b9)"/>
<polygon points="930.9,137.8 1001.0,135.7 964.2,127.0" fill="url(#b10)"/>
<polygon points="968.1,147.0 1006.7,156.5 1039.0,144.8" fill="url(#b11)"/>
<polygon points="968.1,147.0 1039.0,144.8 1001.0,135.7" fill="url(#b12)"/>
<polygon points="1006.7,156.5 1046.8,166.5 1078.5,154.2" fill="url(#b13)"/>
<polygon points="1006.7,156.5 1078.5,154.2 1039.0,144.8" fill="url(#b14)"/>
<polygon points="1046.8,166.5 1088.3,176.8 1078.5,154.2" fill="url(#b15)"/>
<polygon points="1088.3,176.8 1119.3,164.0 1078.5,154.2" fill="url(#b16)"/>
<polygon points="828.9,94.7 861.1,102.3 861.9,85.9" fill="url(#b17)"/>
<polygon points="861.1,102.3 893.8,93.3 861.9,85.9" fill="url(#b18)"/>
<polygon points="861.1,102.3 894.3,110.3 893.8,93.3" fill="url(#b19)"/>
<polygon points="894.3,110.3 926.7,100.8 893.8,93.3" fill="url(#b20)"/>
<polygon points="894.3,110.3 928.7,118.5 926.7,100.8" fill="url(#b21)"/>
<polygon points="928.7,118.5 960.6,108.7 926.7,100.8" fill="url(#b22)"/>
<polygon points="928.7,118.5 964.2,127.0 995.7,116.8" fill="url(#b23)"/>
<polygon points="928.7,118.5 995.7,116.8 960.6,108.7" fill="url(#b24)"/>
<polygon points="964.2,127.0 1001.0,135.7 1032.0,125.1" fill="url(#b25)"/>
<polygon points="964.2,127.0 1032.0,125.1 995.7,116.8" fill="url(#b26)"/>
<polygon points="1001.0,135.7 1039.0,144.8 1069.5,133.8" fill="url(#b27)"/>
<polygon points="1001.0,135.7 1069.5,133.8 1032.0,125.1" fill="url(#b28)"/>
<polygon points="1039.0,144.8 1078.5,154.2 1108.3,142.7" fill="url(#b29)"/>
<polygon points="1039.0,144.8 1108.3,142.7 1069.5,133.8" fill="url(#b30)"/>
<polygon points="1078.5,154.2 1119.3,164.0 1108.3,142.7" fill="url(#b31)"/>
<polygon points="1119.3,164.0 1148.5,152.0 1108.3,142.7" fill="url(#b32)"/>
<polygon points="861.9,85.9 893.8,93.3 893.3,77.6" fill="url(#b33)"/>
<polygon points="893.8,93.3 924.8,84.7 893.3,77.6" fill="url(#b34)"/>
<polygon points="893.8,93.3 926.7,100.8 924.8,84.7" fill="url(#b35)"/>
<polygon points="926.7,100.8 957.3,91.9 924.8,84.7" fill="url(#b36)"/>
<polygon points="926.7,100.8 960.6,108.7 957.3,91.9" fill="url(#b37)"/>
<polygon points="960.6,108.7 990.9,99.4 957.3,91.9" fill="url(#b38)"/>
<polygon points="960.6,108.7 995.7,116.8 1025.5,107.1" fill="url(#b39)"/>
<polygon points="960.6,108.7 1025.5,107.1 990.9,99.4" fill="url(#b40)"/>
<polygon points="995.7,116.8 1032.0,125.1 1061.3,115.1" fill="url(#b41)"/>
<polygon points="995.7,116.8 1061.3,115.1 1025.5,107.1" fill="url(#b42)"/>
<polygon points="1032.0,125.1 1069.5,133.8 1098.3,123.3" fill="url(#b43)"/>
<polygon points="1032.0,125.1 1098.3,123.3 1061.3,115.1" fill="url(#b44)"/>
<polygon points="1069.5,133.8 1108.3,142.7 1098.3,123.3" fill="url(#b45)"/>
<polygon points="1108.3,142.7 1136.5,131.8 1098.3,123.3" fill="url(#b46)"/>
<polygon points="1108.3,142.7 1148.5,152.0 1136.5,131.8" fill="url(#b47)"/>
<polygon points="1148.5,152.0 1176.0,140.6 1136.5,131.8" fill="url(#b48)"/>
<polygon points="893.3,77.6 924.8,84.7 923.1,69.7" fill="url(#b49)"/>
<polygon points="924.8,84.7 954.3,76.5 923.1,69.7" fill="url(#b50)"/>
<polygon points="924.8,84.7 957.3,91.9 954.3,76.5" fill="url(#b51)"/>
<polygon points="957.3,91.9 986.5,83.4 954.3,76.5" fill="url(#b52)"/>
<polygon points="957.3,91.9 990.9,99.4 986.5,83.4" fill="url(#b53)"/>
<polygon points="990.9,99.4 1019.6,90.6 986.5,83.4" fill="url(#b54)"/>
<polygon points="990.9,99.4 1025.5,107.1 1053.8,97.9" fill="url(#b55)"/>
<polygon points="990.9,99.4 1053.8,97.9 1019.6,90.6" fill="url(#b56)"/>
<polygon points="1025.5,107.1 1061.3,115.1 1089.1,105.6" fill="url(#b57)"/>
<polygon points="1025.5,107.1 1089.1,105.6 1053.8,97.9" fill="url(#b58)"/>
<polygon points="1061.3,115.1 1098.3,123.3 1125.5,113.4" fill="url(#b59)"/>
<polygon points="1061.3,115.1 1125.5,113.4 1089.1,105.6" fill="url(#b60)"/>
<polygon points="1098.3,123.3 1136.5,131.8 1125.5,113.4" fill="url(#b61)"/>
<polygon points="1136.5,131.8 1163.1,121.5 1125.5,113.4" fill="url(#b62)"/>
<polygon points="1136.5,131.8 1176.0,140.6 1163.1,121.5" fill="url(#b63)"/>
<polygon points="1176.0,140.6 1202.0,129.9 1163.1,121.5" fill="url(#b64)"/>
<polygon points="923.1,69.7 954.3,76.5 951.5,62.2" fill="url(#b65)"/>
<polygon points="954.3,76.5 982.4,68.7 951.5,62.2" fill="url(#b66)"/>
<polygon points="954.3,76.5 986.5,83.4 982.4,68.7" fill="url(#b67)"/>
<polygon points="986.5,83.4 1014.1,75.3 982.4,68.7" fill="url(#b68)"/>
<polygon points="986.5,83.4 1019.6,90.6 1014.1,75.3" fill="url(#b69)"/>
<polygon points="1019.6,90.6 1046.9,82.2 1014.1,75.3" fill="url(#b70)"/>
<polygon points="1019.6,90.6 1053.8,97.9 1080.6,89.3" fill="url(#b71)"/>
<polygon points="1019.6,90.6 1080.6,89.3 1046.9,82.2" fill="url(#b72)"/>
<polygon points="1053.8,97.9 1089.1,105.6 1115.4,96.5" fill="url(#b73)"/>
<polygon points="1053.8,97.9 1115.4,96.5 1080.6,89.3" fill="url(#b74)"/>
<polygon points="1089.1,105.6 1125.5,113.4 1151.3,104.1" fill="url(#b75)"/>
<polygon points="1089.1,105.6 1151.3,104.1 1115.4,96.5" fill="url(#b76)"/>
<polygon points="1125.5,113.4 1163.1,121.5 1188.4,111.8" fill="url(#b77)"/>
<polygon points="1125.5,113.4 1188.4,111.8 1151.3,104.1" fill="url(#b78)"/>
<polygon points="1163.1,121.5 1202.0,129.9 1188.4,111.8" fill="url(#b79)"/>
<polygon points="1202.0,129.9 1226.6,119.8 1188.4,111.8" fill="url(#b80)"/>
<polygon points="951.5,62.2 982.4,68.7 978.6,55.0" fill="url(#b81)"/>
<polygon points="982.4,68.7 1009.1,61.2 978.6,55.0" fill="url(#b82)"/>
<polygon points="982.4,68.7 1014.1,75.3 1009.1,61.2" fill="url(#b83)"/>
<polygon points="1014.1,75.3 1040.5,67.6 1009.1,61.2" fill="url(#b84)"/>
<polygon points="1014.1,75.3 1046.9,82.2 1040.5,67.6" fill="url(#b85)"/>
<polygon points="1046.9,82.2 1072.8,74.2 1040.5,67.6" fill="url(#b86)"/>
<polygon points="1046.9,82.2 1080.6,89.3 1106.1,81.0" fill="url(#b87)"/>
<polygon points="1046.9,82.2 1106.1,81.0 1072.8,74.2" fill="url(#b88)"/>
<polygon points="1080.6,89.3 1115.4,96.5 1140.4,88.0" fill="url(#b89)"/>
<polygon points="1080.6,89.3 1140.4,88.0 1106.1,81.0" fill="url(#b90)"/>
<polygon points="1115.4,96.5 1151.3,104.1 1175.8,95.2" fill="url(#b91)"/>
<polygon points="1115.4,96.5 1175.8,95.2 1140.4,88.0" fill="url(#b92)"/>
<polygon points="1151.3,104.1 1188.4,111.8 1212.3,102.6" fill="url(#b93)"/>
<polygon points="1151.3,104.1 1212.3,102.6 1175.8,95.2" fill="url(#b94)"/>
<polygon points="1188.4,111.8 1226.6,119.8 1212.3,102.6" fill="url(#b95)"/>
<polygon points="1226.6,119.8 1249.9,110.2 1212.3,102.6" fill="url(#b96)"/>
<polygon points="978.6,55.0 1009.1,61.2 1034.6,54.2" fill="url(#b97)"/>
<polygon points="978.6,55.0 1034.6,54.2 1004.4,48.2" fill="url(#b98)"/>
<polygon points="1009.1,61.2 1040.5,67.6 1065.6,60.3" fill="url(#b99)"/>
<polygon points="1009.1,61.2 1065.6,60.3 1034.6,54.2" fill="url(#b100)"/>
<polygon points="1040.5,67.6 1072.8,74.2 1097.6,66.6" fill="url(#b101)"/>
<polygon points="1040.5,67.6 1097.6,66.6 1065.6,60.3" fill="url(#b102)"/>
<polygon points="1072.8,74.2 1106.1,81.0 1130.4,73.1" fill="url(#b103)"/>
<polygon points="1072.8,74.2 1130.4,73.1 1097.6,66.6" fill="#822880"/>
<polygon points="1106.1,81.0 1140.4,88.0 1164.3,79.8" fill="url(#b104)"/>
<polygon points="1106.1,81.0 1164.3,79.8 1130.4,73.1" fill="url(#b105)"/>
<polygon points="1140.4,88.0 1175.8,95.2 1164.3,79.8" fill="url(#b106)"/>
<polygon points="1175.8,95.2 1199.1,86.7 1164.3,79.8" fill="url(#b107)"/>
<polygon points="1175.8,95.2 1212.3,102.6 1199.1,86.7" fill="url(#b108)"/>
<polygon points="1212.3,102.6 1235.0,93.8 1199.1,86.7" fill="url(#b109)"/>
<polygon points="1212.3,102.6 1249.9,110.2 1235.0,93.8" fill="url(#b110)"/>
<polygon points="1249.9,110.2 1272.0,101.1 1235.0,93.8" fill="url(#b111)"/>
</g></g>
<g opacity="0.85"><use href="#bL0" shape-rendering="crispEdges"/><g id="bL0">
<polygon points="1031.0,354.9 1083.8,375.7 1056.5,300.3" fill="url(#b112)"/>
<polygon points="1060.3,389.9 1114.4,386.0 1083.8,375.7" fill="#6c026a"/>
<polygon points="1031.0,354.9 1060.3,389.9 1083.8,375.7" fill="url(#b113)"/>
<polygon points="1006.4,160.4 1031.0,354.9 1056.5,300.3" fill="url(#b114)"/>
<polygon points="977.2,121.6 1032.1,134.5 1002.6,119.8" fill="url(#b115)"/>
<polygon points="1006.4,160.4 1056.5,300.3 1032.1,134.5" fill="url(#b116)"/>
<polygon points="1060.3,389.9 1091.6,393.1 1114.4,386.0" fill="url(#b117)"/>
<polygon points="1035.8,404.7 1060.3,389.9 1031.0,354.9" fill="url(#b118)"/>
<polygon points="977.2,121.6 1006.4,160.4 1032.1,134.5" fill="url(#b119)"/>
<polygon points="1007.7,307.8 1031.0,354.9 1006.4,160.4" fill="url(#b120)"/>
<polygon points="1035.8,404.7 1091.6,393.1 1060.3,389.9" fill="url(#b121)"/>
<polygon points="1007.7,307.8 1035.8,404.7 1031.0,354.9" fill="url(#b122)"/>
<polygon points="980.1,172.8 1006.4,160.4 977.2,121.6" fill="url(#b123)"/>
<polygon points="950.6,122.8 980.1,172.8 977.2,121.6" fill="url(#b124)"/>
<polygon points="980.1,172.8 1007.7,307.8 1006.4,160.4" fill="url(#b125)"/>
<polygon points="1010.0,420.2 1035.8,404.7 1007.7,307.8" fill="url(#b126)"/>
<polygon points="981.3,313.1 1007.7,307.8 980.1,172.8" fill="url(#b127)"/>
<polygon points="981.3,313.1 1010.0,420.2 1007.7,307.8" fill="url(#b128)"/>
<polygon points="952.8,169.2 980.1,172.8 950.6,122.8" fill="url(#b129)"/>
<polygon points="952.8,169.2 981.3,313.1 980.1,172.8" fill="url(#b130)"/>
<polygon points="922.6,124.5 952.8,169.2 950.6,122.8" fill="url(#b131)"/>
<polygon points="983.0,436.5 1010.0,420.2 981.3,313.1" fill="url(#b132)"/>
<polygon points="954.2,283.3 981.3,313.1 952.8,169.2" fill="url(#b133)"/>
<polygon points="954.2,283.3 983.0,436.5 981.3,313.1" fill="url(#b134)"/>
<polygon points="924.1,159.7 952.8,169.2 922.6,124.5" fill="url(#b135)"/>
<polygon points="893.1,126.3 924.1,159.7 922.6,124.5" fill="url(#b136)"/>
<polygon points="924.1,159.7 954.2,283.3 952.8,169.2" fill="url(#b137)"/>
<polygon points="955.0,436.1 983.0,436.5 954.2,283.3" fill="url(#b138)"/>
<polygon points="893.6,143.8 924.1,159.7 893.1,126.3" fill="url(#b139)"/>
<polygon points="925.3,231.3 954.2,283.3 924.1,159.7" fill="url(#b140)"/>
<polygon points="925.3,231.3 955.0,436.1 954.2,283.3" fill="url(#b141)"/>
<polygon points="862.0,127.9 893.6,143.8 893.1,126.3" fill="url(#b142)"/>
<polygon points="893.6,143.8 925.3,231.3 924.1,159.7" fill="url(#b143)"/>
<polygon points="926.3,342.4 955.0,436.1 925.3,231.3" fill="url(#b144)"/>
<polygon points="861.2,142.0 893.6,143.8 862.0,127.9" fill="url(#b145)"/>
<polygon points="829.2,129.6 861.2,142.0 862.0,127.9" fill="url(#b146)"/>
<polygon points="893.9,223.2 925.3,231.3 893.6,143.8" fill="url(#b147)"/>
<polygon points="893.9,223.2 926.3,342.4 925.3,231.3" fill="url(#b148)"/>
<polygon points="861.2,142.0 893.9,223.2 893.6,143.8" fill="url(#b149)"/>
<polygon points="826.9,141.7 861.2,142.0 829.2,129.6" fill="url(#b150)"/>
<polygon points="794.5,131.7 826.9,141.7 829.2,129.6" fill="url(#b151)"/>
<polygon points="894.4,258.7 926.3,342.4 893.9,223.2" fill="url(#b152)"/>
<polygon points="860.4,183.5 893.9,223.2 861.2,142.0" fill="url(#b153)"/>
<polygon points="826.9,141.7 860.4,183.5 861.2,142.0" fill="url(#b154)"/>
<polygon points="860.4,183.5 894.4,258.7 893.9,223.2" fill="url(#b155)"/>
</g></g>
<g opacity="0.85"><use href="#bL1" shape-rendering="crispEdges"/><g id="bL1">
<polygon points="1091.6,393.1 1148.7,346.6 1114.4,386.0" fill="url(#b156)"/>
<polygon points="1091.6,393.1 1127.1,337.4 1148.7,346.6" fill="url(#b157)"/>
<polygon points="1035.8,404.7 1068.5,382.6 1091.6,393.1" fill="url(#b158)"/>
<polygon points="1160.6,345.2 1180.5,372.2 1148.7,346.6" fill="url(#b159)"/>
<polygon points="1068.5,382.6 1127.1,337.4 1091.6,393.1" fill="url(#b160)"/>
<polygon points="1010.0,420.2 1068.5,382.6 1035.8,404.7" fill="url(#b161)"/>
<polygon points="1127.1,337.4 1160.6,345.2 1148.7,346.6" fill="url(#b162)"/>
<polygon points="1194.7,361.3 1213.8,385.6 1180.5,372.2" fill="url(#b163)"/>
<polygon points="1160.6,345.2 1194.7,361.3 1180.5,372.2" fill="url(#b164)"/>
<polygon points="1068.5,382.6 1104.4,324.8 1127.1,337.4" fill="url(#b165)"/>
<polygon points="1010.0,420.2 1045.0,341.9 1068.5,382.6" fill="url(#b166)"/>
<polygon points="1104.4,324.8 1160.6,345.2 1127.1,337.4" fill="url(#b167)"/>
<polygon points="1229.3,382.4 1248.0,400.6 1213.8,385.6" fill="url(#b168)"/>
<polygon points="1194.7,361.3 1229.3,382.4 1213.8,385.6" fill="url(#b169)"/>
<polygon points="983.0,436.5 1045.0,341.9 1010.0,420.2" fill="url(#b170)"/>
<polygon points="1045.0,341.9 1104.4,324.8 1068.5,382.6" fill="url(#b171)"/>
<polygon points="1138.6,332.7 1194.7,361.3 1160.6,345.2" fill="url(#b172)"/>
<polygon points="1104.4,324.8 1138.6,332.7 1160.6,345.2" fill="url(#b173)"/>
<polygon points="1045.0,341.9 1080.3,308.8 1104.4,324.8" fill="url(#b174)"/>
<polygon points="983.0,436.5 1018.8,329.1 1045.0,341.9" fill="url(#b175)"/>
<polygon points="1138.6,332.7 1174.0,338.1 1194.7,361.3" fill="url(#b176)"/>
<polygon points="1080.3,308.8 1138.6,332.7 1104.4,324.8" fill="url(#b177)"/>
<polygon points="1209.3,362.9 1229.3,382.4 1194.7,361.3" fill="url(#b178)"/>
<polygon points="955.0,436.1 1018.8,329.1 983.0,436.5" fill="url(#b179)"/>
<polygon points="1174.0,338.1 1209.3,362.9 1194.7,361.3" fill="url(#b180)"/>
<polygon points="1018.8,329.1 1080.3,308.8 1045.0,341.9" fill="url(#b181)"/>
<polygon points="1080.3,308.8 1115.2,316.6 1138.6,332.7" fill="url(#b182)"/>
<polygon points="1115.2,316.6 1174.0,338.1 1138.6,332.7" fill="url(#b183)"/>
<polygon points="1018.8,329.1 1055.1,280.1 1080.3,308.8" fill="url(#b184)"/>
<polygon points="955.0,436.1 991.5,289.3 1018.8,329.1" fill="url(#b185)"/>
<polygon points="1115.2,316.6 1151.3,324.8 1174.0,338.1" fill="url(#b186)"/>
<polygon points="1055.1,280.1 1115.2,316.6 1080.3,308.8" fill="url(#b187)"/>
<polygon points="1187.9,342.2 1209.3,362.9 1174.0,338.1" fill="url(#b188)"/>
<polygon points="1151.3,324.8 1187.9,342.2 1174.0,338.1" fill="url(#b189)"/>
<polygon points="926.3,342.4 991.5,289.3 955.0,436.1" fill="url(#b190)"/>
<polygon points="991.5,289.3 1055.1,280.1 1018.8,329.1" fill="url(#b191)"/>
<polygon points="1055.1,280.1 1091.1,281.8 1115.2,316.6" fill="url(#b192)"/>
<polygon points="1127.2,307.6 1151.3,324.8 1115.2,316.6" fill="url(#b193)"/>
<polygon points="1091.1,281.8 1127.2,307.6 1115.2,316.6" fill="url(#b194)"/>
<polygon points="991.5,289.3 1027.8,255.3 1055.1,280.1" fill="url(#b195)"/>
<polygon points="1027.8,255.3 1091.1,281.8 1055.1,280.1" fill="url(#b196)"/>
<polygon points="1165.0,320.2 1187.9,342.2 1151.3,324.8" fill="url(#b197)"/>
<polygon points="926.3,342.4 961.8,258.5 991.5,289.3" fill="url(#b198)"/>
<polygon points="1127.2,307.6 1165.0,320.2 1151.3,324.8" fill="url(#b199)"/>
<polygon points="961.8,258.5 1027.8,255.3 991.5,289.3" fill="url(#b200)"/>
<polygon points="1027.8,255.3 1064.5,259.7 1091.1,281.8" fill="url(#b201)"/>
<polygon points="894.4,258.7 961.8,258.5 926.3,342.4" fill="url(#b202)"/>
<polygon points="1102.1,273.7 1127.2,307.6 1091.1,281.8" fill="url(#b203)"/>
<polygon points="1064.5,259.7 1102.1,273.7 1091.1,281.8" fill="url(#b204)"/>
<polygon points="961.8,258.5 998.4,238.1 1027.8,255.3" fill="url(#b205)"/>
<polygon points="998.4,238.1 1064.5,259.7 1027.8,255.3" fill="url(#b206)"/>
<polygon points="1140.5,296.3 1165.0,320.2 1127.2,307.6" fill="url(#b207)"/>
<polygon points="1102.1,273.7 1140.5,296.3 1127.2,307.6" fill="url(#b208)"/>
<polygon points="894.4,258.7 930.1,209.4 961.8,258.5" fill="url(#b209)"/>
<polygon points="930.1,209.4 998.4,238.1 961.8,258.5" fill="url(#b210)"/>
<polygon points="998.4,238.1 1035.6,248.8 1064.5,259.7" fill="url(#b211)"/>
<polygon points="1035.6,248.8 1102.1,273.7 1064.5,259.7" fill="url(#b212)"/>
<polygon points="1035.6,248.8 1074.2,256.6 1102.1,273.7" fill="url(#b213)"/>
<polygon points="967.0,206.7 1035.6,248.8 998.4,238.1" fill="url(#b214)"/>
<polygon points="930.1,209.4 967.0,206.7 998.4,238.1" fill="url(#b215)"/>
<polygon points="1114.0,270.6 1140.5,296.3 1102.1,273.7" fill="url(#b216)"/>
<polygon points="1074.2,256.6 1114.0,270.6 1102.1,273.7" fill="url(#b217)"/>
<polygon points="1005.1,217.2 1074.2,256.6 1035.6,248.8" fill="url(#b218)"/>
<polygon points="967.0,206.7 1005.1,217.2 1035.6,248.8" fill="url(#b219)"/>
<polygon points="1005.1,217.2 1044.6,229.8 1074.2,256.6" fill="url(#b220)"/>
<polygon points="1085.4,242.8 1114.0,270.6 1074.2,256.6" fill="url(#b221)"/>
<polygon points="1044.6,229.8 1085.4,242.8 1074.2,256.6" fill="url(#b222)"/>
</g></g>
<polyline points="794.1,103.9 799.8,450.7 1071.3,565.9 1245.6,430.2" fill="none" stroke="#111" stroke-width="2" stroke-linejoin="round"/>
<line x1="799.8" y1="450.7" x2="795.0" y2="454.4" stroke="#111" stroke-width="1.60"/>
<line x1="830.0" y1="463.6" x2="826.9" y2="466.0" stroke="#111" stroke-width="1.60"/>
<line x1="861.3" y1="476.8" x2="856.5" y2="480.5" stroke="#111" stroke-width="1.60"/>
<line x1="893.5" y1="490.5" x2="890.3" y2="492.9" stroke="#111" stroke-width="1.60"/>
<line x1="926.7" y1="504.6" x2="922.0" y2="508.3" stroke="#111" stroke-width="1.60"/>
<line x1="961.1" y1="519.1" x2="957.9" y2="521.6" stroke="#111" stroke-width="1.60"/>
<line x1="996.6" y1="534.2" x2="991.9" y2="537.9" stroke="#111" stroke-width="1.60"/>
<line x1="1033.3" y1="549.8" x2="1030.2" y2="552.2" stroke="#111" stroke-width="1.60"/>
<line x1="1071.3" y1="565.9" x2="1066.6" y2="569.6" stroke="#111" stroke-width="1.60"/>
<line x1="1100.4" y1="543.3" x2="1105.9" y2="545.6" stroke="#111" stroke-width="1.60"/>
<line x1="1127.9" y1="521.9" x2="1131.6" y2="523.4" stroke="#111" stroke-width="1.60"/>
<line x1="1153.9" y1="501.6" x2="1159.4" y2="504.0" stroke="#111" stroke-width="1.60"/>
<line x1="1178.6" y1="482.4" x2="1182.3" y2="484.0" stroke="#111" stroke-width="1.60"/>
<line x1="1202.1" y1="464.1" x2="1207.6" y2="466.5" stroke="#111" stroke-width="1.60"/>
<line x1="1224.4" y1="446.8" x2="1228.1" y2="448.3" stroke="#111" stroke-width="1.60"/>
<line x1="1245.6" y1="430.2" x2="1251.2" y2="432.6" stroke="#111" stroke-width="1.60"/>
<line x1="799.8" y1="450.7" x2="793.8" y2="452.2" stroke="#111" stroke-width="1.60"/>
<line x1="798.9" y1="396.3" x2="792.9" y2="397.8" stroke="#111" stroke-width="1.60"/>
<line x1="798.0" y1="340.6" x2="792.0" y2="342.1" stroke="#111" stroke-width="1.60"/>
<line x1="797.0" y1="283.6" x2="791.0" y2="285.1" stroke="#111" stroke-width="1.60"/>
<line x1="796.1" y1="225.2" x2="790.1" y2="226.7" stroke="#111" stroke-width="1.60"/>
<line x1="795.1" y1="165.3" x2="789.1" y2="166.8" stroke="#111" stroke-width="1.60"/>
<rect x="601.1" y="54.5" width="30.3" height="333.8" fill="url(#cb601)"/>
<rect x="601.1" y="388.3" width="30.3" height="3.6" fill="#222"/>
<rect x="601.1" y="51.7" width="30.3" height="339.6" fill="none" stroke="#222" stroke-width="1.6" rx="1.5"/>
<line x1="631.4" y1="388.3" x2="640.6" y2="388.3" stroke="#222" stroke-width="1.60"/>
<text x="646.4" y="393.9" font-size="17" textLength="36.5" lengthAdjust="spacingAndGlyphs" fill="#333">0.000</text>
<line x1="631.4" y1="354.9" x2="640.6" y2="354.9" stroke="#222" stroke-width="1.60"/>
<text x="646.4" y="360.5" font-size="17" textLength="36.5" lengthAdjust="spacingAndGlyphs" fill="#333">1.280</text>
<line x1="631.4" y1="321.5" x2="640.6" y2="321.5" stroke="#222" stroke-width="1.60"/>
<text x="646.4" y="327.1" font-size="17" textLength="36.5" lengthAdjust="spacingAndGlyphs" fill="#333">2.560</text>
<line x1="631.4" y1="288.2" x2="640.6" y2="288.2" stroke="#222" stroke-width="1.60"/>
<text x="646.4" y="293.8" font-size="17" textLength="36.5" lengthAdjust="spacingAndGlyphs" fill="#333">3.840</text>
<line x1="631.4" y1="254.8" x2="640.6" y2="254.8" stroke="#222" stroke-width="1.60"/>
<text x="646.4" y="260.4" font-size="17" textLength="36.5" lengthAdjust="spacingAndGlyphs" fill="#333">5.120</text>
<line x1="631.4" y1="221.4" x2="640.6" y2="221.4" stroke="#222" stroke-width="1.60"/>
<text x="646.4" y="227.0" font-size="17" textLength="36.5" lengthAdjust="spacingAndGlyphs" fill="#333">6.400</text>
<line x1="631.4" y1="188.0" x2="640.6" y2="188.0" stroke="#222" stroke-width="1.60"/>
<text x="646.4" y="193.6" font-size="17" textLength="36.5" lengthAdjust="spacingAndGlyphs" fill="#333">7.680</text>
<line x1="631.4" y1="154.6" x2="640.6" y2="154.6" stroke="#222" stroke-width="1.60"/>
<text x="646.4" y="160.2" font-size="17" textLength="36.5" lengthAdjust="spacingAndGlyphs" fill="#333">8.960</text>
<line x1="631.4" y1="121.3" x2="640.6" y2="121.3" stroke="#222" stroke-width="1.60"/>
<text x="646.4" y="126.9" font-size="17" textLength="36.5" lengthAdjust="spacingAndGlyphs" fill="#333">10.24</text>
<line x1="631.4" y1="87.9" x2="640.6" y2="87.9" stroke="#222" stroke-width="1.60"/>
<text x="646.4" y="93.5" font-size="17" textLength="36.5" lengthAdjust="spacingAndGlyphs" fill="#333">11.52</text>
<line x1="631.4" y1="54.5" x2="640.6" y2="54.5" stroke="#222" stroke-width="1.60"/>
<text x="646.4" y="60.1" font-size="17" textLength="36.5" lengthAdjust="spacingAndGlyphs" fill="#333">12.80</text>
<rect x="1296.9" y="86.0" width="31.0" height="326.7" fill="url(#cb1296)"/>
<rect x="1296.9" y="412.7" width="31.0" height="3.6" fill="#222"/>
<rect x="1296.9" y="83.5" width="31.0" height="332.2" fill="none" stroke="#222" stroke-width="1.6" rx="1.5"/>
<line x1="1327.9" y1="412.7" x2="1337.1" y2="412.7" stroke="#222" stroke-width="1.60"/>
<text x="1342.9" y="418.3" font-size="17" textLength="36.5" lengthAdjust="spacingAndGlyphs" fill="#333">0.000</text>
<line x1="1327.9" y1="380.0" x2="1337.1" y2="380.0" stroke="#222" stroke-width="1.60"/>
<text x="1342.9" y="385.6" font-size="17" textLength="36.5" lengthAdjust="spacingAndGlyphs" fill="#333">1.110</text>
<line x1="1327.9" y1="347.4" x2="1337.1" y2="347.4" stroke="#222" stroke-width="1.60"/>
<text x="1342.9" y="353.0" font-size="17" textLength="36.5" lengthAdjust="spacingAndGlyphs" fill="#333">2.220</text>
<line x1="1327.9" y1="314.7" x2="1337.1" y2="314.7" stroke="#222" stroke-width="1.60"/>
<text x="1342.9" y="320.3" font-size="17" textLength="36.5" lengthAdjust="spacingAndGlyphs" fill="#333">3.330</text>
<line x1="1327.9" y1="282.0" x2="1337.1" y2="282.0" stroke="#222" stroke-width="1.60"/>
<text x="1342.9" y="287.6" font-size="17" textLength="36.5" lengthAdjust="spacingAndGlyphs" fill="#333">4.440</text>
<line x1="1327.9" y1="249.3" x2="1337.1" y2="249.3" stroke="#222" stroke-width="1.60"/>
<text x="1342.9" y="254.9" font-size="17" textLength="36.5" lengthAdjust="spacingAndGlyphs" fill="#333">5.550</text>
<line x1="1327.9" y1="216.7" x2="1337.1" y2="216.7" stroke="#222" stroke-width="1.60"/>
<text x="1342.9" y="222.3" font-size="17" textLength="36.5" lengthAdjust="spacingAndGlyphs" fill="#333">6.660</text>
<line x1="1327.9" y1="184.0" x2="1337.1" y2="184.0" stroke="#222" stroke-width="1.60"/>
<text x="1342.9" y="189.6" font-size="17" textLength="36.5" lengthAdjust="spacingAndGlyphs" fill="#333">7.770</text>
<line x1="1327.9" y1="151.3" x2="1337.1" y2="151.3" stroke="#222" stroke-width="1.60"/>
<text x="1342.9" y="156.9" font-size="17" textLength="36.5" lengthAdjust="spacingAndGlyphs" fill="#333">8.880</text>
<line x1="1327.9" y1="118.7" x2="1337.1" y2="118.7" stroke="#222" stroke-width="1.60"/>
<text x="1342.9" y="124.3" font-size="17" textLength="36.5" lengthAdjust="spacingAndGlyphs" fill="#333">9.990</text>
<line x1="1327.9" y1="86.0" x2="1337.1" y2="86.0" stroke="#222" stroke-width="1.60"/>
<text x="1342.9" y="91.6" font-size="17" textLength="36.5" lengthAdjust="spacingAndGlyphs" fill="#333">11.10</text>
<text transform="translate(2.7,92.6) rotate(88.2)" font-size="20.7" textLength="309.0" lengthAdjust="spacingAndGlyphs" stroke="#111" stroke-width="0.3" fill="#111">Minimum bearing contact (MN)</text>
<text transform="translate(44.8,97.3) skewX(-2.0) scale(0.640,1)" font-size="19.5" text-anchor="end" stroke="#3a3a3a" stroke-width="0.25" fill="#3a3a3a">12</text>
<text transform="translate(47.0,159.3) skewX(-2.0) scale(0.640,1)" font-size="19.5" text-anchor="end" stroke="#3a3a3a" stroke-width="0.25" fill="#3a3a3a">10</text>
<text transform="translate(49.2,217.5) skewX(-2.0) scale(0.640,1)" font-size="19.5" text-anchor="end" stroke="#3a3a3a" stroke-width="0.25" fill="#3a3a3a">8</text>
<text transform="translate(52.7,276.0) skewX(-2.0) scale(0.640,1)" font-size="19.5" text-anchor="end" stroke="#3a3a3a" stroke-width="0.25" fill="#3a3a3a">6</text>
<text transform="translate(53.8,333.8) skewX(-2.0) scale(0.640,1)" font-size="19.5" text-anchor="end" stroke="#3a3a3a" stroke-width="0.25" fill="#3a3a3a">4</text>
<text transform="translate(54.8,390.0) skewX(-2.0) scale(0.640,1)" font-size="19.5" text-anchor="end" stroke="#3a3a3a" stroke-width="0.25" fill="#3a3a3a">2</text>
<text transform="translate(57.9,443.3) skewX(-2.0) scale(0.640,1)" font-size="19.5" text-anchor="end" stroke="#3a3a3a" stroke-width="0.25" fill="#3a3a3a">0</text>
<text transform="matrix(0.883,-0.469,0.800,0.340,55.2,460.0)" font-size="17.5" text-anchor="middle" fill="#3a3a3a">0.1</text>
<text transform="matrix(0.883,-0.469,0.800,0.340,122.0,489.0)" font-size="17.5" text-anchor="middle" fill="#3a3a3a">0.2</text>
<text transform="matrix(0.883,-0.469,0.800,0.340,191.3,520.7)" font-size="17.5" text-anchor="middle" fill="#3a3a3a">0.3</text>
<text transform="matrix(0.883,-0.469,0.800,0.340,262.6,551.0)" font-size="17.5" text-anchor="middle" fill="#3a3a3a">0.4</text>
<text transform="matrix(0.883,-0.469,0.800,0.340,347.6,587.7)" font-size="17.5" text-anchor="middle" fill="#3a3a3a">0.5</text>
<text transform="matrix(0.927,0.375,-0.720,0.540,405.0,548.4)" font-size="15.0" text-anchor="middle" textLength="23.5" lengthAdjust="spacing" fill="#3a3a3a">0.2</text>
<text transform="matrix(0.927,0.375,-0.720,0.540,462.1,504.1)" font-size="15.0" text-anchor="middle" textLength="23.5" lengthAdjust="spacing" fill="#3a3a3a">0.4</text>
<text transform="matrix(0.927,0.375,-0.720,0.540,513.4,462.7)" font-size="15.0" text-anchor="middle" textLength="23.5" lengthAdjust="spacing" fill="#3a3a3a">0.6</text>
<text transform="matrix(0.927,0.375,-0.720,0.540,559.4,425.7)" font-size="15.0" text-anchor="middle" textLength="23.5" lengthAdjust="spacing" fill="#3a3a3a">0.8</text>
<text transform="translate(91.0,518.5) rotate(23.5) skewX(-22.0)" font-size="16.5" textLength="166.0" lengthAdjust="spacingAndGlyphs" stroke="#111" stroke-width="0.25" fill="#111">Excitation period (s)</text>
<text transform="translate(444.0,555.0) rotate(-37.7)" font-size="19.0" textLength="158.0" lengthAdjust="spacingAndGlyphs" fill="#111">Amplitude of excitaiton (g)</text>
<text transform="translate(739.6,137.1) rotate(88.8)" font-size="20.5" textLength="302.0" lengthAdjust="spacingAndGlyphs" stroke="#111" stroke-width="0.3" fill="#111">Minimum bearing contact (MN)</text>
<text transform="translate(778.0,108.5) skewX(-2.0) scale(0.640,1)" font-size="18.5" text-anchor="end" stroke="#3a3a3a" stroke-width="0.25" fill="#3a3a3a">12</text>
<text transform="translate(778.0,171.0) skewX(-2.0) scale(0.640,1)" font-size="18.5" text-anchor="end" stroke="#3a3a3a" stroke-width="0.25" fill="#3a3a3a">10</text>
<text transform="translate(780.0,232.0) skewX(-2.0) scale(0.640,1)" font-size="18.5" text-anchor="end" stroke="#3a3a3a" stroke-width="0.25" fill="#3a3a3a">8</text>
<text transform="translate(780.5,290.0) skewX(-2.0) scale(0.640,1)" font-size="18.5" text-anchor="end" stroke="#3a3a3a" stroke-width="0.25" fill="#3a3a3a">6</text>
<text transform="translate(781.0,348.5) skewX(-2.0) scale(0.640,1)" font-size="18.5" text-anchor="end" stroke="#3a3a3a" stroke-width="0.25" fill="#3a3a3a">4</text>
<text transform="translate(784.5,406.5) skewX(-2.0) scale(0.640,1)" font-size="18.5" text-anchor="end" stroke="#3a3a3a" stroke-width="0.25" fill="#3a3a3a">2</text>
<text transform="translate(786.5,458.5) skewX(-2.0) scale(0.640,1)" font-size="18.5" text-anchor="end" stroke="#3a3a3a" stroke-width="0.25" fill="#3a3a3a">0</text>
<text transform="matrix(0.883,-0.469,0.800,0.340,791.5,472.9)" font-size="17.0" text-anchor="middle" fill="#3a3a3a">0.1</text>
<text transform="matrix(0.883,-0.469,0.800,0.340,853.1,498.9)" font-size="17.0" text-anchor="middle" fill="#3a3a3a">0.2</text>
<text transform="matrix(0.883,-0.469,0.800,0.340,919.9,527.9)" font-size="17.0" text-anchor="middle" fill="#3a3a3a">0.3</text>
<text transform="matrix(0.883,-0.469,0.800,0.340,991.9,557.9)" font-size="17.0" text-anchor="middle" fill="#3a3a3a">0.4</text>
<text transform="matrix(0.883,-0.469,0.800,0.340,1067.5,589.9)" font-size="17.0" text-anchor="middle" fill="#3a3a3a">0.5</text>
<text transform="matrix(0.927,0.375,-0.720,0.540,1121.0,555.6)" font-size="14.5" text-anchor="middle" textLength="23.0" lengthAdjust="spacing" fill="#3a3a3a">0.2</text>
<text transform="matrix(0.927,0.375,-0.720,0.540,1171.1,514.1)" font-size="14.5" text-anchor="middle" textLength="23.0" lengthAdjust="spacing" fill="#3a3a3a">0.4</text>
<text transform="matrix(0.927,0.375,-0.720,0.540,1219.4,475.6)" font-size="14.5" text-anchor="middle" textLength="23.0" lengthAdjust="spacing" fill="#3a3a3a">0.6</text>
<text transform="matrix(0.927,0.375,-0.720,0.540,1263.2,441.6)" font-size="14.5" text-anchor="middle" textLength="23.0" lengthAdjust="spacing" fill="#3a3a3a">0.8</text>
<text transform="translate(814.5,515.5) rotate(23.9) skewX(-22.0)" font-size="16.5" textLength="167.0" lengthAdjust="spacingAndGlyphs" stroke="#111" stroke-width="0.25" fill="#111">Excitation period (s)</text>
<text transform="translate(1164.5,567.0) rotate(-38.2)" font-size="19.0" textLength="155.0" lengthAdjust="spacingAndGlyphs" fill="#111">Amplitude of excitaiton(g)</text>
<text transform="translate(472.6,690.0)" font-size="45.0" text-anchor="middle" font-weight="bold" fill="#000">(a)</text>
<text transform="translate(1102.0,690.0)" font-size="45.0" text-anchor="middle" font-weight="bold" fill="#000">(b)</text>
</svg></body></html>
